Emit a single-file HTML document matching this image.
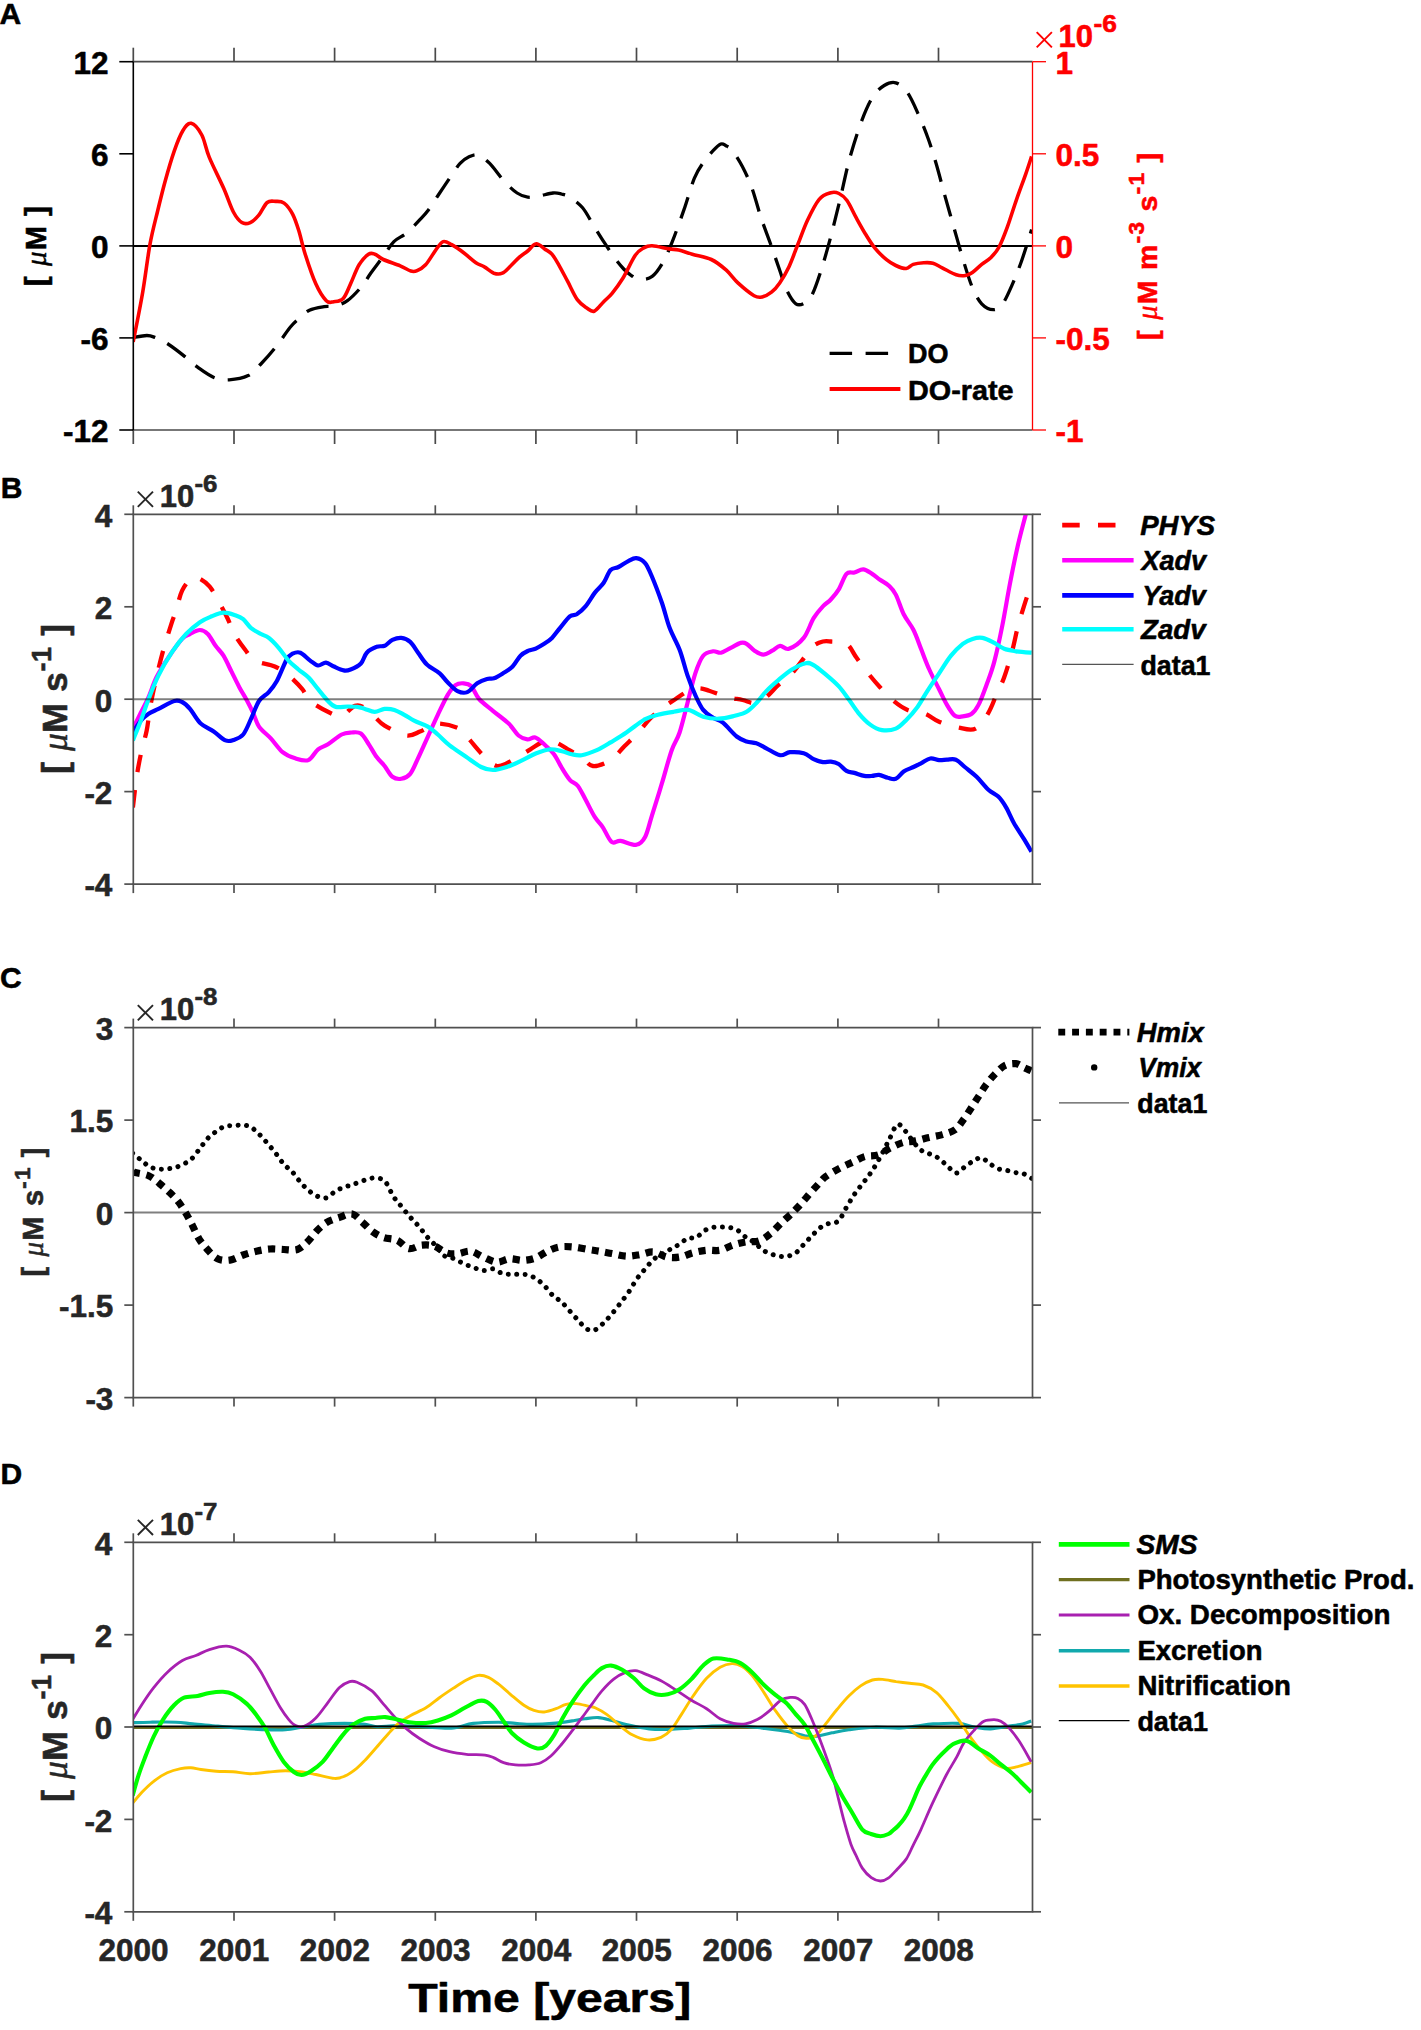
<!DOCTYPE html>
<html><head><meta charset="utf-8"><title>Figure</title>
<style>html,body{margin:0;padding:0;background:#fff;overflow:hidden;font-family:'Liberation Sans',sans-serif;}svg{display:block;}</style>
</head><body>
<svg width="1421" height="2030" viewBox="0 0 1421 2030" font-family="&quot;Liberation Sans&quot;, sans-serif">
<rect x="0" y="0" width="1421" height="2030" fill="#ffffff"/>
<defs>
<clipPath id="clipA"><rect x="133.3" y="61.7" width="899.2" height="368.3"/></clipPath>
<clipPath id="clipB"><rect x="133.3" y="514.3" width="899.2" height="369.8"/></clipPath>
<clipPath id="clipC"><rect x="133.3" y="1027.6" width="899.2" height="370.0"/></clipPath>
<clipPath id="clipD"><rect x="133.3" y="1542.3" width="899.2" height="369.5"/></clipPath>
</defs>
<line x1="133.3" y1="245.9" x2="1032.5" y2="245.9" stroke="#000" stroke-width="2.00" />
<path d="M133.2,337.6 C135.5,337.2 143.2,335.5 146.9,335.5 C150.6,335.5 151.8,336.2 155.3,337.6 C158.8,339.0 163.1,340.8 168.0,344.0 C172.9,347.2 180.0,352.7 184.9,356.6 C189.8,360.5 192.7,363.7 197.6,367.2 C202.5,370.7 209.1,375.6 214.4,377.7 C219.7,379.8 223.6,380.1 229.2,379.8 C234.8,379.5 242.9,378.2 248.2,375.6 C253.5,373.0 256.3,368.8 260.9,364.0 C265.5,359.2 270.8,353.3 275.7,347.1 C280.6,340.9 286.5,331.8 290.4,327.0 C294.3,322.2 295.7,321.4 298.9,318.6 C302.1,315.8 305.2,312.2 309.4,310.2 C313.6,308.2 320.0,307.3 324.2,306.6 C328.4,305.9 330.9,306.9 334.8,305.9 C338.7,304.9 342.8,304.0 347.4,300.7 C352.0,297.4 358.3,290.5 362.2,285.9 C366.1,281.3 367.2,278.1 370.7,273.2 C374.2,268.3 379.4,261.6 383.3,256.3 C387.2,251.0 390.0,245.5 393.9,241.6 C397.8,237.7 402.3,236.6 406.5,233.1 C410.7,229.6 415.6,224.3 419.2,220.4 C422.8,216.5 425.1,214.3 428.4,209.9 C431.7,205.5 435.1,199.8 439.0,194.0 C442.9,188.2 448.2,180.2 451.7,175.1 C455.2,170.0 457.3,166.4 460.1,163.4 C462.9,160.4 465.6,158.5 468.6,157.1 C471.6,155.7 474.5,153.9 478.0,155.0 C481.5,156.1 485.3,159.0 489.7,163.4 C494.1,167.8 499.8,176.5 504.4,181.4 C509.0,186.3 513.2,190.4 517.1,193.0 C521.0,195.6 524.2,196.7 527.7,197.2 C531.2,197.7 534.0,196.9 538.2,196.2 C542.4,195.5 549.1,193.4 553.0,193.0 C556.9,192.6 558.6,193.3 561.4,194.0 C564.2,194.7 566.4,194.9 569.9,197.2 C573.4,199.5 578.7,203.2 582.6,207.8 C586.5,212.4 589.6,219.1 593.1,224.7 C596.6,230.3 600.2,236.2 603.7,241.6 C607.2,247.0 610.9,252.8 614.2,257.4 C617.5,262.0 620.9,266.0 623.7,269.0 C626.5,272.0 628.5,273.6 631.1,275.3 C633.8,277.1 636.1,279.3 639.6,279.5 C643.1,279.7 648.3,279.2 652.2,276.4 C656.1,273.6 659.4,268.5 662.8,262.7 C666.1,256.9 668.8,250.4 672.3,241.6 C675.8,232.8 680.2,220.5 683.9,209.9 C687.6,199.3 690.9,186.5 694.4,178.2 C697.9,169.9 700.9,165.9 705.0,160.3 C709.1,154.7 715.8,147.2 719.3,144.8 C722.8,142.4 724.0,144.8 726.3,145.9 C728.6,147.1 730.5,148.2 733.2,151.7 C735.9,155.2 739.4,160.8 742.5,166.8 C745.6,172.8 748.7,179.2 751.8,187.7 C754.9,196.2 758.0,208.6 761.1,217.9 C764.2,227.2 767.3,234.8 770.4,243.5 C773.5,252.2 777.0,262.5 779.7,270.2 C782.4,277.9 783.9,284.3 786.6,289.9 C789.3,295.5 792.8,301.7 795.9,303.8 C799.0,305.9 802.5,304.2 805.2,302.7 C807.9,301.2 809.5,300.2 812.2,294.6 C814.9,289.0 818.4,278.7 821.5,269.0 C824.6,259.3 827.7,248.1 830.8,236.5 C833.9,224.9 837.0,212.1 840.1,199.3 C843.2,186.5 845.8,172.7 849.3,159.9 C852.8,147.1 857.1,133.2 861.0,122.7 C864.9,112.2 868.7,103.4 872.6,97.2 C876.5,91.0 880.3,87.9 884.2,85.5 C888.1,83.1 891.9,81.6 895.8,82.8 C899.7,84.0 903.5,87.0 907.4,92.5 C911.3,98.0 915.5,108.0 919.0,115.7 C922.5,123.5 925.4,130.9 928.3,139.0 C931.2,147.1 933.7,155.2 936.4,164.5 C939.1,173.8 941.7,184.2 944.6,194.7 C947.5,205.1 950.7,216.4 953.8,227.2 C956.9,238.0 960.0,249.6 963.1,259.7 C966.2,269.8 969.3,280.2 972.4,287.6 C975.5,295.0 978.2,300.1 981.7,303.8 C985.2,307.5 989.8,309.7 993.3,309.7 C996.8,309.7 999.5,307.9 1002.6,303.8 C1005.7,299.7 1008.8,292.3 1011.9,285.3 C1015.0,278.3 1017.9,271.3 1021.2,262.0 C1024.5,252.7 1029.9,234.9 1031.6,229.5" fill="none" stroke="#000" stroke-width="3.30" stroke-linecap="butt" stroke-linejoin="round" stroke-dasharray="22.5 13.5" clip-path="url(#clipA)"/>
<path d="M133.2,341.8 C134.8,333.5 139.9,308.6 142.7,292.2 C145.5,275.8 147.6,257.1 150.1,243.7 C152.6,230.3 154.9,222.2 157.4,212.0 C159.9,201.8 162.0,192.6 164.8,182.4 C167.6,172.2 171.3,159.4 174.3,150.8 C177.3,142.2 180.0,135.3 182.8,130.7 C185.6,126.1 188.0,122.6 191.2,123.3 C194.4,124.0 198.8,129.4 201.8,135.0 C204.8,140.6 205.5,148.1 209.2,157.1 C212.9,166.1 219.9,179.7 223.9,188.8 C227.9,198.0 230.4,206.4 233.4,212.0 C236.4,217.6 239.1,220.8 241.9,222.6 C244.7,224.4 247.5,223.8 250.3,222.6 C253.1,221.4 256.0,218.5 258.8,215.2 C261.6,211.8 264.4,204.8 267.2,202.5 C270.0,200.2 272.9,201.3 275.7,201.4 C278.5,201.5 281.3,201.0 284.1,203.1 C286.9,205.2 290.1,209.4 292.6,214.1 C295.1,218.8 296.8,224.3 298.9,231.0 C301.0,237.7 302.4,245.4 305.2,254.2 C308.0,263.0 312.3,276.1 315.8,283.8 C319.3,291.6 323.3,297.7 326.3,300.7 C329.3,303.7 330.9,302.1 333.7,301.7 C336.5,301.3 340.4,301.5 343.2,298.5 C346.0,295.5 348.0,289.4 350.6,283.8 C353.2,278.2 356.1,269.7 359.1,264.8 C362.1,259.9 365.9,256.0 368.5,254.2 C371.1,252.4 372.4,253.3 374.9,254.2 C377.4,255.1 379.1,257.6 383.3,259.5 C387.5,261.4 395.6,263.9 400.2,265.8 C404.8,267.7 408.0,270.3 410.8,271.1 C413.6,271.9 414.6,271.8 417.1,270.7 C419.6,269.6 422.5,268.2 425.6,264.8 C428.7,261.4 432.9,253.9 435.8,250.0 C438.7,246.1 440.6,242.5 443.2,241.6 C445.8,240.7 448.2,242.8 451.7,244.7 C455.2,246.6 460.3,250.2 464.3,253.2 C468.3,256.2 472.5,260.4 475.9,262.7 C479.2,265.0 481.4,265.1 484.4,266.9 C487.4,268.6 490.9,272.1 493.9,273.2 C496.9,274.2 499.5,274.4 502.3,273.2 C505.1,272.0 508.0,268.4 510.8,265.8 C513.6,263.2 516.4,259.9 519.2,257.4 C522.0,254.9 524.9,253.3 527.7,251.0 C530.5,248.7 533.3,244.0 536.1,243.7 C538.9,243.3 542.0,247.2 544.6,248.9 C547.2,250.7 549.5,251.4 551.9,254.2 C554.3,257.0 556.6,261.2 559.3,265.8 C561.9,270.4 564.8,276.1 567.8,281.7 C570.8,287.3 574.1,295.2 577.3,299.6 C580.5,304.0 584.0,306.1 586.8,308.0 C589.6,309.9 591.4,312.2 594.2,311.2 C597.0,310.1 600.7,304.7 603.7,301.7 C606.7,298.7 608.9,297.2 612.1,293.3 C615.3,289.4 618.8,284.8 622.7,278.5 C626.6,272.2 631.8,260.4 635.3,255.3 C638.8,250.2 641.0,249.5 643.8,247.9 C646.6,246.3 648.0,245.6 652.2,245.8 C656.4,246.0 664.7,248.2 669.1,248.9 C673.5,249.6 674.7,249.1 678.6,250.0 C682.5,250.9 686.8,252.6 692.3,254.2 C697.8,255.8 705.6,256.8 711.3,259.5 C717.0,262.2 721.9,266.3 726.3,270.2 C730.7,274.1 733.3,278.6 737.9,282.9 C742.5,287.1 750.0,293.4 754.1,295.7 C758.2,298.0 759.4,297.5 762.3,296.9 C765.2,296.3 768.6,294.5 771.5,292.2 C774.4,289.9 776.8,287.1 779.7,282.9 C782.6,278.6 785.9,273.3 789.0,266.7 C792.1,260.1 795.1,251.2 798.2,243.5 C801.3,235.8 804.0,227.6 807.5,220.2 C811.0,212.8 815.3,203.9 819.2,199.3 C823.1,194.7 827.5,193.8 830.8,192.8 C834.1,191.8 836.2,192.2 838.9,193.5 C841.6,194.8 844.1,196.4 847.0,200.5 C849.9,204.6 853.2,212.3 856.3,217.9 C859.4,223.5 862.5,229.2 865.6,234.2 C868.7,239.2 871.4,243.8 874.9,248.1 C878.4,252.3 883.0,256.8 886.5,259.7 C890.0,262.6 892.5,264.0 895.8,265.5 C899.1,267.0 903.3,268.7 906.2,268.5 C909.1,268.3 910.3,265.4 913.2,264.4 C916.1,263.4 920.4,262.9 923.7,262.7 C927.0,262.5 929.8,262.3 932.9,263.2 C936.0,264.1 938.3,265.9 942.2,267.8 C946.1,269.7 952.3,273.5 956.2,274.8 C960.1,276.1 962.8,275.9 965.5,275.5 C968.2,275.1 969.7,274.4 972.4,272.5 C975.1,270.6 978.6,266.9 981.7,264.4 C984.8,261.9 988.1,260.3 991.0,257.4 C993.9,254.5 996.4,252.0 999.1,247.0 C1001.8,242.0 1004.4,235.1 1007.3,227.2 C1010.2,219.2 1013.5,208.2 1016.6,199.3 C1019.7,190.4 1023.3,181.0 1025.8,173.8 C1028.3,166.7 1030.6,159.3 1031.6,156.4" fill="none" stroke="#ff0000" stroke-width="3.60" stroke-linecap="butt" stroke-linejoin="round" clip-path="url(#clipA)"/>
<line x1="133.3" y1="47.7" x2="133.3" y2="61.7" stroke="#4a4a4a" stroke-width="1.70" />
<line x1="133.3" y1="430.0" x2="133.3" y2="444.0" stroke="#4a4a4a" stroke-width="1.70" />
<line x1="234.0" y1="47.7" x2="234.0" y2="61.7" stroke="#4a4a4a" stroke-width="1.70" />
<line x1="234.0" y1="430.0" x2="234.0" y2="444.0" stroke="#4a4a4a" stroke-width="1.70" />
<line x1="334.6" y1="47.7" x2="334.6" y2="61.7" stroke="#4a4a4a" stroke-width="1.70" />
<line x1="334.6" y1="430.0" x2="334.6" y2="444.0" stroke="#4a4a4a" stroke-width="1.70" />
<line x1="435.3" y1="47.7" x2="435.3" y2="61.7" stroke="#4a4a4a" stroke-width="1.70" />
<line x1="435.3" y1="430.0" x2="435.3" y2="444.0" stroke="#4a4a4a" stroke-width="1.70" />
<line x1="535.9" y1="47.7" x2="535.9" y2="61.7" stroke="#4a4a4a" stroke-width="1.70" />
<line x1="535.9" y1="430.0" x2="535.9" y2="444.0" stroke="#4a4a4a" stroke-width="1.70" />
<line x1="636.5" y1="47.7" x2="636.5" y2="61.7" stroke="#4a4a4a" stroke-width="1.70" />
<line x1="636.5" y1="430.0" x2="636.5" y2="444.0" stroke="#4a4a4a" stroke-width="1.70" />
<line x1="737.2" y1="47.7" x2="737.2" y2="61.7" stroke="#4a4a4a" stroke-width="1.70" />
<line x1="737.2" y1="430.0" x2="737.2" y2="444.0" stroke="#4a4a4a" stroke-width="1.70" />
<line x1="837.9" y1="47.7" x2="837.9" y2="61.7" stroke="#4a4a4a" stroke-width="1.70" />
<line x1="837.9" y1="430.0" x2="837.9" y2="444.0" stroke="#4a4a4a" stroke-width="1.70" />
<line x1="938.5" y1="47.7" x2="938.5" y2="61.7" stroke="#4a4a4a" stroke-width="1.70" />
<line x1="938.5" y1="430.0" x2="938.5" y2="444.0" stroke="#4a4a4a" stroke-width="1.70" />
<line x1="132.5" y1="61.7" x2="1032.5" y2="61.7" stroke="#4a4a4a" stroke-width="1.70" />
<line x1="132.5" y1="430.0" x2="1032.5" y2="430.0" stroke="#4a4a4a" stroke-width="1.70" />
<line x1="133.3" y1="61.7" x2="133.3" y2="430.0" stroke="#000" stroke-width="1.60" />
<line x1="1032.5" y1="61.7" x2="1032.5" y2="430.0" stroke="#ff0000" stroke-width="1.30" />
<line x1="119.3" y1="61.7" x2="133.3" y2="61.7" stroke="#000" stroke-width="1.60" />
<line x1="1032.5" y1="61.7" x2="1046.0" y2="61.7" stroke="#ff0000" stroke-width="1.30" />
<line x1="119.3" y1="153.8" x2="133.3" y2="153.8" stroke="#000" stroke-width="1.60" />
<line x1="1032.5" y1="153.8" x2="1046.0" y2="153.8" stroke="#ff0000" stroke-width="1.30" />
<line x1="119.3" y1="245.9" x2="133.3" y2="245.9" stroke="#000" stroke-width="1.60" />
<line x1="1032.5" y1="245.9" x2="1046.0" y2="245.9" stroke="#ff0000" stroke-width="1.30" />
<line x1="119.3" y1="337.9" x2="133.3" y2="337.9" stroke="#000" stroke-width="1.60" />
<line x1="1032.5" y1="337.9" x2="1046.0" y2="337.9" stroke="#ff0000" stroke-width="1.30" />
<line x1="119.3" y1="430.0" x2="133.3" y2="430.0" stroke="#000" stroke-width="1.60" />
<line x1="1032.5" y1="430.0" x2="1046.0" y2="430.0" stroke="#ff0000" stroke-width="1.30" />
<text x="108.5" y="73.7" font-size="31.5" text-anchor="end" font-weight="bold" font-style="normal" fill="#000"  stroke="#000" stroke-width="0.55" stroke-linejoin="round">12</text>
<text x="108.5" y="165.8" font-size="31.5" text-anchor="end" font-weight="bold" font-style="normal" fill="#000"  stroke="#000" stroke-width="0.55" stroke-linejoin="round">6</text>
<text x="108.5" y="257.9" font-size="31.5" text-anchor="end" font-weight="bold" font-style="normal" fill="#000"  stroke="#000" stroke-width="0.55" stroke-linejoin="round">0</text>
<text x="108.5" y="349.9" font-size="31.5" text-anchor="end" font-weight="bold" font-style="normal" fill="#000"  stroke="#000" stroke-width="0.55" stroke-linejoin="round">-6</text>
<text x="108.5" y="442.0" font-size="31.5" text-anchor="end" font-weight="bold" font-style="normal" fill="#000"  stroke="#000" stroke-width="0.55" stroke-linejoin="round">-12</text>
<text x="1055.5" y="73.7" font-size="31.5" text-anchor="start" font-weight="bold" font-style="normal" fill="#ff0000"  stroke="#ff0000" stroke-width="0.55" stroke-linejoin="round">1</text>
<text x="1055.5" y="165.8" font-size="31.5" text-anchor="start" font-weight="bold" font-style="normal" fill="#ff0000"  stroke="#ff0000" stroke-width="0.55" stroke-linejoin="round">0.5</text>
<text x="1055.5" y="257.9" font-size="31.5" text-anchor="start" font-weight="bold" font-style="normal" fill="#ff0000"  stroke="#ff0000" stroke-width="0.55" stroke-linejoin="round">0</text>
<text x="1055.5" y="349.9" font-size="31.5" text-anchor="start" font-weight="bold" font-style="normal" fill="#ff0000"  stroke="#ff0000" stroke-width="0.55" stroke-linejoin="round">-0.5</text>
<text x="1055.5" y="442.0" font-size="31.5" text-anchor="start" font-weight="bold" font-style="normal" fill="#ff0000"  stroke="#ff0000" stroke-width="0.55" stroke-linejoin="round">-1</text>
<line x1="1036.7" y1="32.2" x2="1051.9" y2="47.4" stroke="#ff0000" stroke-width="1.90" />
<line x1="1036.7" y1="47.4" x2="1051.9" y2="32.2" stroke="#ff0000" stroke-width="1.90" />
<text x="1058.5" y="47.3" font-size="31.0" text-anchor="start" font-weight="bold" font-style="normal" fill="#ff0000"  stroke="#ff0000" stroke-width="0.55" stroke-linejoin="round">10</text>
<text x="1093.5" y="32.1" font-size="23.5" text-anchor="start" font-weight="bold" font-style="normal" fill="#ff0000" textLength="23.5" lengthAdjust="spacingAndGlyphs"  stroke="#ff0000" stroke-width="0.55" stroke-linejoin="round">-6</text>
<line x1="829.6" y1="353.3" x2="900.4" y2="353.3" stroke="#000" stroke-width="3.30" stroke-dasharray="22.5 13.5"/>
<line x1="829.6" y1="389.0" x2="900.4" y2="389.0" stroke="#ff0000" stroke-width="3.90" />
<text x="908.0" y="363.1" font-size="27.5" text-anchor="start" font-weight="bold" font-style="normal" fill="#000" textLength="40.5" lengthAdjust="spacingAndGlyphs"  stroke="#000" stroke-width="0.55" stroke-linejoin="round">DO</text>
<text x="908.0" y="400.2" font-size="28.0" text-anchor="start" font-weight="bold" font-style="normal" fill="#000" textLength="105.5" lengthAdjust="spacingAndGlyphs"  stroke="#000" stroke-width="0.55" stroke-linejoin="round">DO-rate</text>
<text transform="translate(46.4,246.1) rotate(-90)" font-size="29" font-weight="bold" text-anchor="middle" fill="#000" stroke="#000" stroke-width="0.55" textLength="80" lengthAdjust="spacing">[ <tspan font-family="&quot;Liberation Serif&quot;, serif" font-style="italic" font-weight="normal" stroke-width="0.45">μ</tspan>M ]</text>
<text transform="translate(1156.5,246.4) rotate(-90)" font-size="28.5" font-weight="bold" text-anchor="middle" fill="#ff0000" stroke="#ff0000" stroke-width="0.55" textLength="187" lengthAdjust="spacing">[ <tspan font-family="&quot;Liberation Serif&quot;, serif" font-style="italic" font-weight="normal" stroke-width="0.45">μ</tspan>M m<tspan dy="-13" font-size="22.5">-3</tspan><tspan dy="13"> s</tspan><tspan dy="-13" font-size="22.5">-1</tspan><tspan dy="13"> ]</tspan></text>
<text x="-0.5" y="23.9" font-size="30.0" text-anchor="start" font-weight="bold" font-style="normal" fill="#000"  stroke="#000" stroke-width="0.55" stroke-linejoin="round">A</text>
<path d="M132.9,807.4 C133.6,802.1 135.3,785.4 136.8,775.9 C138.3,766.4 140.0,757.8 141.7,750.2 C143.3,742.6 145.2,738.0 146.7,730.5 C148.2,723.0 149.0,713.8 150.6,704.9 C152.2,696.0 154.4,686.5 156.5,677.3 C158.6,668.1 160.9,658.7 163.4,649.8 C165.9,640.9 169.2,630.7 171.3,624.1 C173.4,617.5 174.4,615.9 176.2,610.3 C178.0,604.7 179.5,596.0 182.1,590.6 C184.7,585.2 189.0,579.8 192.0,577.8 C195.0,575.8 197.0,577.3 199.9,578.8 C202.8,580.3 206.8,583.2 209.7,586.7 C212.6,590.2 214.6,594.2 217.6,599.5 C220.6,604.8 224.7,612.5 227.5,618.2 C230.3,624.0 231.5,628.7 234.4,634.0 C237.3,639.3 241.8,645.4 245.2,649.8 C248.6,654.2 250.1,657.8 255.0,660.6 C259.9,663.4 269.2,664.0 274.8,666.5 C280.4,669.0 283.9,671.6 288.5,675.4 C293.1,679.2 298.7,684.9 302.3,689.2 C305.9,693.5 305.6,697.1 310.2,701.0 C314.8,704.9 324.6,710.3 329.9,712.8 C335.1,715.3 337.5,716.9 341.7,715.8 C345.9,714.6 351.1,707.2 355.0,705.9 C358.9,704.6 361.6,706.1 364.9,707.9 C368.2,709.7 371.4,713.8 374.7,716.7 C378.0,719.7 379.4,722.5 384.6,725.6 C389.9,728.7 400.3,734.5 406.2,735.5 C412.1,736.5 416.1,733.0 420.0,731.5 C423.9,730.0 426.6,727.9 429.9,726.6 C433.2,725.3 434.8,723.3 439.7,723.6 C444.6,723.9 454.5,726.0 459.4,728.6 C464.3,731.2 465.4,735.0 469.3,739.4 C473.2,743.8 478.5,750.8 483.1,755.2 C487.7,759.6 492.0,765.2 496.9,766.0 C501.8,766.8 507.0,762.9 512.6,760.1 C518.2,757.3 525.8,752.1 530.4,749.3 C535.0,746.5 536.9,744.7 540.2,743.3 C543.5,741.9 547.1,740.8 550.1,740.8 C553.1,740.8 555.0,741.9 558.0,743.3 C561.0,744.7 563.9,747.0 567.8,749.3 C571.7,751.6 577.4,754.3 581.6,757.1 C585.8,759.9 588.1,765.5 592.9,766.0 C597.7,766.5 605.4,763.4 610.6,760.1 C615.9,756.8 619.8,750.9 624.4,746.3 C629.0,741.7 633.9,737.1 638.2,732.5 C642.5,727.9 645.7,723.0 650.0,718.7 C654.3,714.4 659.5,710.2 663.8,706.9 C668.1,703.6 671.3,701.8 675.6,699.0 C679.9,696.2 685.5,691.9 689.4,690.1 C693.3,688.3 696.0,688.1 699.3,688.2 C702.6,688.3 704.5,689.2 709.1,690.7 C713.7,692.2 721.3,695.5 726.9,697.0 C732.5,698.5 738.0,699.0 742.6,700.0 C747.2,701.0 750.5,703.5 754.5,703.0 C758.5,702.5 762.4,700.0 766.3,697.0 C770.2,694.0 773.8,689.1 778.1,685.2 C782.4,681.3 787.3,678.3 791.9,673.4 C796.5,668.5 802.1,660.3 805.7,655.7 C809.3,651.1 810.7,648.2 813.6,645.8 C816.5,643.4 820.0,642.2 822.9,641.5 C825.8,640.8 826.9,641.1 830.8,641.5 C834.7,641.9 842.2,641.1 846.5,643.8 C850.8,646.5 852.8,652.7 856.4,657.6 C860.0,662.5 864.3,668.5 868.2,673.4 C872.1,678.3 875.7,682.6 880.0,687.2 C884.3,691.8 889.2,697.2 893.8,701.0 C898.4,704.8 902.4,707.8 907.6,709.9 C912.9,712.0 920.0,711.8 925.3,713.8 C930.5,715.8 933.5,719.4 939.1,721.7 C944.7,724.0 952.7,726.5 958.8,727.6 C964.9,728.8 970.7,731.1 975.6,728.6 C980.5,726.1 985.0,718.4 988.4,712.8 C991.8,707.2 993.7,701.0 996.3,695.1 C998.9,689.2 1001.6,684.5 1004.2,677.3 C1006.8,670.1 1009.7,660.2 1012.0,651.7 C1014.3,643.2 1016.0,633.7 1018.0,626.1 C1020.0,618.5 1022.1,612.1 1023.9,606.4 C1025.7,600.6 1027.5,595.2 1028.8,591.6 C1030.1,588.0 1031.2,586.1 1031.7,585.0" fill="none" stroke="#ff0000" stroke-width="4.30" stroke-linecap="butt" stroke-linejoin="round" stroke-dasharray="17.5 18" clip-path="url(#clipB)"/>
<path d="M132.9,728.6 C134.2,726.0 138.2,718.1 140.8,712.8 C143.4,707.5 146.0,702.9 148.6,697.0 C151.2,691.1 153.2,683.9 156.5,677.3 C159.8,670.7 164.0,664.0 168.3,657.6 C172.6,651.2 178.5,642.8 182.1,638.9 C185.7,635.0 187.0,635.5 190.0,634.0 C193.0,632.5 196.9,630.0 199.9,630.0 C202.9,630.0 205.2,631.4 207.8,634.0 C210.4,636.6 213.0,642.2 215.6,645.8 C218.2,649.4 220.9,651.4 223.5,655.7 C226.1,660.0 228.8,666.1 231.4,671.4 C234.0,676.6 236.7,682.3 239.3,687.2 C241.9,692.1 244.9,696.7 247.2,701.0 C249.5,705.3 251.1,708.5 253.1,712.8 C255.1,717.1 256.1,722.3 259.0,726.6 C261.9,730.9 266.9,734.1 270.8,738.4 C274.7,742.7 278.7,748.9 282.6,752.2 C286.6,755.5 290.2,756.8 294.5,758.1 C298.8,759.4 304.4,761.6 308.3,760.1 C312.2,758.6 314.8,751.9 318.1,749.3 C321.4,746.7 324.1,746.8 328.0,744.3 C331.9,741.8 337.8,736.5 341.7,734.5 C345.6,732.5 348.4,732.7 351.6,732.5 C354.8,732.3 358.0,731.5 360.9,733.5 C363.8,735.5 366.2,740.4 368.8,744.3 C371.4,748.2 374.1,753.5 376.7,757.1 C379.3,760.7 382.0,762.7 384.6,766.0 C387.2,769.3 389.6,774.7 392.4,776.8 C395.2,778.9 398.3,779.3 401.3,778.8 C404.3,778.3 407.4,777.3 410.2,773.9 C413.0,770.5 415.2,764.3 418.1,758.1 C421.1,751.9 424.6,743.7 427.9,736.5 C431.2,729.3 434.5,721.7 437.8,714.8 C441.1,707.9 444.7,700.0 447.6,695.1 C450.6,690.2 452.9,687.2 455.5,685.2 C458.1,683.2 460.8,683.1 463.4,683.3 C466.0,683.5 468.7,683.6 471.3,686.2 C473.9,688.8 475.5,694.9 479.1,699.0 C482.7,703.1 488.0,706.7 492.9,710.8 C497.8,714.9 504.4,719.5 508.7,723.6 C513.0,727.7 515.4,732.9 518.5,735.5 C521.6,738.1 524.6,739.1 527.4,739.4 C530.2,739.7 532.5,736.6 535.3,737.4 C538.1,738.2 541.1,741.5 544.2,744.3 C547.3,747.1 551.0,750.2 554.0,754.2 C557.0,758.2 559.3,763.7 561.9,768.0 C564.5,772.3 567.2,776.8 569.8,779.8 C572.4,782.8 575.1,782.4 577.7,785.7 C580.3,789.0 582.6,794.2 585.5,799.5 C588.4,804.8 592.0,812.6 594.9,817.2 C597.8,821.8 599.9,823.0 602.7,827.1 C605.5,831.2 608.6,839.6 611.6,841.9 C614.6,844.2 616.4,840.4 620.5,840.9 C624.6,841.4 632.1,845.4 636.2,844.8 C640.3,844.1 642.5,841.9 645.1,837.0 C647.7,832.1 649.2,824.2 652.0,815.3 C654.8,806.4 658.5,794.6 661.8,783.7 C665.1,772.9 668.7,758.7 671.7,750.2 C674.7,741.7 677.0,740.4 679.6,732.5 C682.2,724.6 684.9,712.9 687.5,703.0 C690.1,693.1 692.7,681.3 695.3,673.4 C697.9,665.5 700.2,659.4 703.2,655.7 C706.2,652.0 710.1,651.8 713.1,651.3 C716.1,650.8 718.0,653.3 721.0,652.7 C724.0,652.1 727.5,649.4 730.8,647.8 C734.1,646.2 738.1,643.6 740.7,642.9 C743.3,642.2 744.3,642.5 746.6,643.8 C748.9,645.1 751.7,648.9 754.5,650.7 C757.3,652.5 760.3,654.7 763.3,654.7 C766.2,654.7 769.4,652.2 772.2,650.7 C775.0,649.2 777.3,646.1 780.1,645.8 C782.9,645.5 785.0,650.1 788.9,648.8 C792.8,647.5 799.6,643.0 803.7,637.9 C807.8,632.8 810.4,623.5 813.6,618.2 C816.8,613.0 820.0,609.5 822.9,606.4 C825.8,603.3 828.2,602.3 830.8,599.5 C833.4,596.7 836.0,594.0 838.6,589.7 C841.2,585.4 843.9,576.8 846.5,573.9 C849.1,571.0 851.6,573.2 854.4,572.5 C857.2,571.8 860.3,569.2 863.3,569.4 C866.2,569.6 869.3,572.2 872.1,573.9 C874.9,575.6 877.2,577.8 880.0,579.8 C882.8,581.8 886.3,583.2 888.9,585.7 C891.5,588.2 893.3,589.8 895.8,594.6 C898.3,599.4 900.8,608.4 903.7,614.3 C906.7,620.2 910.5,624.1 913.5,630.0 C916.5,635.9 918.8,643.2 921.4,649.8 C924.0,656.4 926.3,662.9 929.3,669.5 C932.2,676.1 936.1,683.3 939.1,689.2 C942.1,695.1 944.4,700.5 947.0,704.9 C949.6,709.3 952.3,713.9 954.9,715.8 C957.5,717.7 960.0,716.7 962.8,716.4 C965.6,716.1 969.1,715.7 971.7,713.8 C974.3,711.9 976.0,709.7 978.5,704.9 C981.0,700.1 983.8,692.4 986.4,685.2 C989.0,678.0 991.7,671.5 994.3,661.6 C996.9,651.8 999.6,639.2 1002.2,626.1 C1004.8,613.0 1007.5,596.3 1010.1,582.8 C1012.7,569.3 1015.3,556.7 1017.9,545.3 C1020.5,533.9 1023.5,523.4 1025.8,514.2 C1028.1,505.0 1030.7,494.0 1031.7,490.0" fill="none" stroke="#ff00ff" stroke-width="4.20" stroke-linecap="butt" stroke-linejoin="round" clip-path="url(#clipB)"/>
<path d="M132.9,732.5 C134.2,730.5 138.2,723.8 140.8,720.7 C143.4,717.6 145.7,715.8 148.6,713.8 C151.5,711.8 154.2,711.0 158.5,708.9 C162.8,706.8 170.4,702.1 174.3,701.0 C178.2,699.9 179.5,700.7 182.1,702.0 C184.7,703.3 187.0,705.4 190.0,708.9 C193.0,712.4 196.0,718.9 199.9,722.7 C203.8,726.5 209.4,728.5 213.7,731.5 C218.0,734.5 222.2,739.0 225.5,740.4 C228.8,741.8 230.5,741.0 233.4,740.0 C236.3,739.0 240.2,738.0 243.2,734.5 C246.1,731.0 248.5,724.3 251.1,718.7 C253.7,713.1 256.1,705.4 259.0,701.0 C261.9,696.6 265.9,695.4 268.8,692.1 C271.8,688.8 273.7,686.7 276.7,681.3 C279.7,675.9 284.0,664.2 286.6,659.6 C289.2,655.0 290.2,654.9 292.5,653.7 C294.8,652.6 297.4,651.6 300.4,652.7 C303.3,653.9 307.2,658.5 310.2,660.6 C313.1,662.7 315.5,665.2 318.1,665.5 C320.7,665.8 323.4,662.4 326.0,662.6 C328.6,662.8 330.9,665.2 333.9,666.5 C336.8,667.8 340.9,669.9 343.7,670.4 C346.5,670.9 347.7,670.6 350.6,669.5 C353.5,668.4 358.2,666.3 360.9,663.5 C363.6,660.7 364.2,655.5 366.8,652.7 C369.4,649.9 373.7,647.9 376.7,646.8 C379.7,645.6 382.0,646.9 384.6,645.8 C387.2,644.6 389.6,641.2 392.4,639.9 C395.2,638.6 398.3,637.6 401.3,637.9 C404.3,638.2 407.4,639.4 410.2,641.9 C413.0,644.4 415.3,648.9 418.1,652.7 C420.9,656.5 423.3,661.0 426.9,664.5 C430.5,668.0 436.2,670.4 439.7,673.4 C443.1,676.4 444.6,679.3 447.6,682.3 C450.6,685.2 454.2,689.5 457.5,691.1 C460.8,692.7 464.0,693.4 467.3,692.1 C470.6,690.8 473.9,685.5 477.2,683.3 C480.5,681.1 484.2,679.7 487.0,678.9 C489.8,678.1 491.3,679.2 493.9,678.3 C496.5,677.4 499.7,675.4 502.8,673.4 C505.9,671.4 509.7,669.5 512.6,666.5 C515.6,663.5 517.9,658.3 520.5,655.7 C523.1,653.1 525.9,651.9 528.4,650.7 C530.9,649.6 532.7,649.9 535.3,648.8 C537.9,647.6 541.4,645.6 544.2,643.8 C547.0,642.0 549.4,640.5 552.0,637.9 C554.6,635.3 556.9,631.7 559.9,628.1 C562.9,624.5 567.0,618.6 569.8,616.3 C572.6,614.0 574.1,615.9 576.7,614.3 C579.3,612.6 582.5,610.0 585.5,606.4 C588.5,602.8 591.9,596.5 594.9,592.6 C597.9,588.7 601.1,586.6 603.7,582.8 C606.3,579.0 608.1,572.6 610.6,570.0 C613.1,567.4 615.5,568.5 618.5,567.0 C621.5,565.5 625.3,562.6 628.3,561.1 C631.2,559.6 633.4,557.8 636.2,558.1 C639.0,558.4 642.5,560.0 645.1,563.1 C647.7,566.2 649.2,570.2 652.0,576.8 C654.8,583.4 658.8,594.0 661.8,602.5 C664.8,611.0 666.7,620.2 669.7,628.1 C672.7,636.0 676.6,641.9 679.6,649.8 C682.6,657.7 684.9,667.8 687.5,675.4 C690.1,683.0 692.7,689.4 695.3,695.1 C697.9,700.9 700.2,706.1 703.2,709.9 C706.2,713.7 709.8,715.6 713.1,717.7 C716.4,719.8 719.0,719.6 722.9,722.7 C726.8,725.8 732.8,733.4 736.7,736.5 C740.7,739.6 743.3,740.3 746.6,741.4 C749.9,742.5 753.1,742.1 756.4,743.3 C759.7,744.4 762.3,746.3 766.3,748.3 C770.2,750.3 776.2,754.6 780.1,755.2 C784.0,755.9 786.0,752.5 789.9,752.2 C793.8,751.9 799.8,752.1 803.7,753.2 C807.7,754.4 810.4,757.6 813.6,759.1 C816.8,760.6 820.0,761.7 822.9,762.1 C825.8,762.5 828.2,761.4 830.8,761.7 C833.4,762.0 836.0,762.5 838.6,764.0 C841.2,765.5 843.9,769.4 846.5,770.9 C849.1,772.4 851.4,772.1 854.4,772.9 C857.4,773.7 861.3,775.4 864.3,775.9 C867.2,776.4 869.6,776.1 872.1,775.9 C874.6,775.7 876.4,774.6 879.0,774.9 C881.6,775.2 885.1,777.1 887.9,777.8 C890.7,778.4 893.2,779.8 895.8,778.8 C898.4,777.8 900.8,773.5 903.7,771.5 C906.7,769.5 910.5,768.4 913.5,767.0 C916.5,765.6 918.6,764.5 921.4,763.1 C924.2,761.7 927.3,759.0 930.3,758.5 C933.2,758.0 936.3,759.9 939.1,760.1 C941.9,760.3 944.2,759.8 947.0,759.7 C949.8,759.6 952.9,758.5 955.9,759.7 C958.9,760.9 961.3,764.1 964.8,767.0 C968.2,769.9 972.7,773.0 976.6,776.8 C980.5,780.6 984.8,786.4 988.4,789.7 C992.0,793.0 995.3,793.7 998.3,796.6 C1001.2,799.5 1003.5,803.0 1006.1,807.4 C1008.7,811.8 1011.0,818.0 1014.0,823.2 C1017.0,828.5 1021.0,834.1 1023.9,838.9 C1026.8,843.6 1030.2,849.6 1031.4,851.7" fill="none" stroke="#0000ff" stroke-width="4.20" stroke-linecap="butt" stroke-linejoin="round" clip-path="url(#clipB)"/>
<path d="M132.9,740.4 C134.2,737.1 138.2,727.6 140.8,720.7 C143.4,713.8 145.7,706.5 148.6,699.0 C151.5,691.5 154.6,683.3 158.5,675.4 C162.4,667.5 167.7,658.6 172.3,651.7 C176.9,644.8 181.5,638.9 186.1,634.0 C190.7,629.1 195.6,625.2 199.9,622.2 C204.2,619.2 207.8,617.9 211.7,616.3 C215.6,614.7 219.6,612.9 223.5,612.7 C227.4,612.5 232.0,614.2 235.3,615.3 C238.6,616.4 240.6,617.1 243.2,619.2 C245.8,621.3 248.1,625.6 251.1,628.1 C254.1,630.6 258.1,632.4 261.0,634.0 C263.9,635.6 265.9,635.6 268.8,637.9 C271.8,640.2 275.4,644.0 278.7,647.8 C282.0,651.6 285.2,657.0 288.5,660.6 C291.8,664.2 295.1,666.7 298.4,669.5 C301.7,672.3 305.0,674.0 308.3,677.3 C311.6,680.6 314.8,685.2 318.1,689.2 C321.4,693.2 325.1,698.0 328.0,701.0 C330.9,704.0 332.5,706.0 335.8,706.9 C339.1,707.8 344.1,706.5 347.7,706.5 C351.3,706.5 354.6,706.5 357.5,706.9 C360.4,707.3 362.0,708.1 364.9,708.9 C367.8,709.7 371.4,711.8 374.7,711.8 C378.0,711.8 381.3,709.2 384.6,708.9 C387.9,708.6 391.1,708.9 394.4,709.9 C397.7,710.9 401.0,713.0 404.3,714.8 C407.6,716.6 410.2,718.7 414.1,720.7 C418.0,722.7 423.9,724.3 427.9,726.6 C431.8,728.9 434.2,731.4 437.8,734.5 C441.4,737.6 445.0,741.7 449.6,745.3 C454.2,748.9 460.1,752.6 465.3,756.2 C470.6,759.8 476.5,764.7 481.1,767.0 C485.7,769.3 488.6,770.0 492.9,770.0 C497.2,770.0 501.8,768.6 506.7,767.0 C511.6,765.4 517.6,762.4 522.5,760.1 C527.4,757.8 531.7,755.0 536.3,753.2 C540.9,751.4 545.8,749.6 550.1,749.3 C554.4,749.0 558.3,750.4 561.9,751.2 C565.5,752.0 568.4,753.5 571.7,754.2 C575.0,754.9 577.4,755.9 581.6,755.2 C585.8,754.5 592.0,752.3 596.8,750.2 C601.6,748.1 605.7,745.4 610.6,742.4 C615.5,739.4 620.8,736.3 626.4,732.5 C632.0,728.7 638.9,722.7 644.1,719.7 C649.4,716.8 653.0,716.1 657.9,714.8 C662.8,713.5 668.6,712.6 673.7,711.8 C678.8,711.0 683.5,709.1 688.4,709.9 C693.3,710.7 698.1,715.2 703.2,716.7 C708.3,718.2 713.7,718.9 719.0,718.7 C724.3,718.6 730.2,716.9 734.8,715.8 C739.4,714.6 743.0,713.9 746.6,711.8 C750.2,709.7 753.1,706.5 756.4,703.0 C759.7,699.5 762.7,694.9 766.3,691.1 C769.9,687.3 773.8,683.9 778.1,680.3 C782.4,676.7 787.3,672.4 791.9,669.5 C796.5,666.6 802.1,663.9 805.7,663.2 C809.3,662.5 810.1,663.1 813.6,665.1 C817.1,667.1 822.6,671.9 826.8,675.4 C831.0,678.9 835.0,682.3 838.6,686.2 C842.2,690.1 845.2,694.6 848.5,699.0 C851.8,703.4 854.7,708.5 858.3,712.8 C861.9,717.1 866.2,721.7 870.2,724.6 C874.2,727.5 877.7,729.4 882.0,730.1 C886.3,730.8 891.9,730.2 895.8,728.6 C899.7,727.0 902.0,724.3 905.6,720.7 C909.2,717.1 913.9,711.8 917.5,706.9 C921.1,702.0 923.7,696.7 927.3,691.1 C930.9,685.5 935.1,679.3 939.1,673.4 C943.1,667.5 947.0,660.6 951.0,655.7 C955.0,650.8 959.2,646.6 962.8,643.8 C966.4,641.0 969.3,639.9 972.6,638.9 C975.9,637.9 978.9,637.2 982.5,637.9 C986.1,638.6 990.7,641.1 994.3,642.9 C997.9,644.7 1000.6,647.4 1004.2,648.8 C1007.8,650.2 1011.4,650.6 1016.0,651.3 C1020.6,651.9 1029.1,652.5 1031.7,652.7" fill="none" stroke="#00ffff" stroke-width="4.20" stroke-linecap="butt" stroke-linejoin="round" clip-path="url(#clipB)"/>
<line x1="133.3" y1="699.2" x2="1032.5" y2="699.2" stroke="#000" stroke-width="2.00" stroke-opacity="0.5"/>
<line x1="133.3" y1="505.3" x2="133.3" y2="514.3" stroke="#505050" stroke-width="1.70" />
<line x1="133.3" y1="884.1" x2="133.3" y2="893.1" stroke="#505050" stroke-width="1.70" />
<line x1="234.0" y1="505.3" x2="234.0" y2="514.3" stroke="#505050" stroke-width="1.70" />
<line x1="234.0" y1="884.1" x2="234.0" y2="893.1" stroke="#505050" stroke-width="1.70" />
<line x1="334.6" y1="505.3" x2="334.6" y2="514.3" stroke="#505050" stroke-width="1.70" />
<line x1="334.6" y1="884.1" x2="334.6" y2="893.1" stroke="#505050" stroke-width="1.70" />
<line x1="435.3" y1="505.3" x2="435.3" y2="514.3" stroke="#505050" stroke-width="1.70" />
<line x1="435.3" y1="884.1" x2="435.3" y2="893.1" stroke="#505050" stroke-width="1.70" />
<line x1="535.9" y1="505.3" x2="535.9" y2="514.3" stroke="#505050" stroke-width="1.70" />
<line x1="535.9" y1="884.1" x2="535.9" y2="893.1" stroke="#505050" stroke-width="1.70" />
<line x1="636.5" y1="505.3" x2="636.5" y2="514.3" stroke="#505050" stroke-width="1.70" />
<line x1="636.5" y1="884.1" x2="636.5" y2="893.1" stroke="#505050" stroke-width="1.70" />
<line x1="737.2" y1="505.3" x2="737.2" y2="514.3" stroke="#505050" stroke-width="1.70" />
<line x1="737.2" y1="884.1" x2="737.2" y2="893.1" stroke="#505050" stroke-width="1.70" />
<line x1="837.9" y1="505.3" x2="837.9" y2="514.3" stroke="#505050" stroke-width="1.70" />
<line x1="837.9" y1="884.1" x2="837.9" y2="893.1" stroke="#505050" stroke-width="1.70" />
<line x1="938.5" y1="505.3" x2="938.5" y2="514.3" stroke="#505050" stroke-width="1.70" />
<line x1="938.5" y1="884.1" x2="938.5" y2="893.1" stroke="#505050" stroke-width="1.70" />
<line x1="132.5" y1="514.3" x2="1033.3" y2="514.3" stroke="#505050" stroke-width="1.70" />
<line x1="132.5" y1="884.1" x2="1033.3" y2="884.1" stroke="#505050" stroke-width="1.70" />
<line x1="133.3" y1="514.3" x2="133.3" y2="884.1" stroke="#505050" stroke-width="1.70" />
<line x1="1032.5" y1="514.3" x2="1032.5" y2="884.1" stroke="#505050" stroke-width="1.70" />
<line x1="124.3" y1="514.3" x2="133.3" y2="514.3" stroke="#505050" stroke-width="1.70" />
<line x1="1032.5" y1="514.3" x2="1041.0" y2="514.3" stroke="#505050" stroke-width="1.70" />
<line x1="124.3" y1="606.8" x2="133.3" y2="606.8" stroke="#505050" stroke-width="1.70" />
<line x1="1032.5" y1="606.8" x2="1041.0" y2="606.8" stroke="#505050" stroke-width="1.70" />
<line x1="124.3" y1="699.2" x2="133.3" y2="699.2" stroke="#505050" stroke-width="1.70" />
<line x1="1032.5" y1="699.2" x2="1041.0" y2="699.2" stroke="#505050" stroke-width="1.70" />
<line x1="124.3" y1="791.6" x2="133.3" y2="791.6" stroke="#505050" stroke-width="1.70" />
<line x1="1032.5" y1="791.6" x2="1041.0" y2="791.6" stroke="#505050" stroke-width="1.70" />
<line x1="124.3" y1="884.1" x2="133.3" y2="884.1" stroke="#505050" stroke-width="1.70" />
<line x1="1032.5" y1="884.1" x2="1041.0" y2="884.1" stroke="#505050" stroke-width="1.70" />
<text x="112.4" y="526.6" font-size="31.5" text-anchor="end" font-weight="bold" font-style="normal" fill="#262626"  stroke="#262626" stroke-width="0.55" stroke-linejoin="round">4</text>
<text x="112.4" y="619.0" font-size="31.5" text-anchor="end" font-weight="bold" font-style="normal" fill="#262626"  stroke="#262626" stroke-width="0.55" stroke-linejoin="round">2</text>
<text x="112.4" y="711.5" font-size="31.5" text-anchor="end" font-weight="bold" font-style="normal" fill="#262626"  stroke="#262626" stroke-width="0.55" stroke-linejoin="round">0</text>
<text x="112.4" y="803.9" font-size="31.5" text-anchor="end" font-weight="bold" font-style="normal" fill="#262626"  stroke="#262626" stroke-width="0.55" stroke-linejoin="round">-2</text>
<text x="112.4" y="896.4" font-size="31.5" text-anchor="end" font-weight="bold" font-style="normal" fill="#262626"  stroke="#262626" stroke-width="0.55" stroke-linejoin="round">-4</text>
<line x1="137.8" y1="491.7" x2="153.0" y2="506.9" stroke="#262626" stroke-width="1.90" />
<line x1="137.8" y1="506.9" x2="153.0" y2="491.7" stroke="#262626" stroke-width="1.90" />
<text x="159.8" y="506.9" font-size="31.0" text-anchor="start" font-weight="bold" font-style="normal" fill="#262626"  stroke="#262626" stroke-width="0.55" stroke-linejoin="round">10</text>
<text x="194.5" y="491.7" font-size="23.5" text-anchor="start" font-weight="bold" font-style="normal" fill="#262626" textLength="23.0" lengthAdjust="spacingAndGlyphs"  stroke="#262626" stroke-width="0.55" stroke-linejoin="round">-6</text>
<line x1="1062.2" y1="525.1" x2="1133.6" y2="525.1" stroke="#ff0000" stroke-width="4.60" stroke-dasharray="17.5 18.3"/>
<line x1="1062.2" y1="560.2" x2="1133.6" y2="560.2" stroke="#ff00ff" stroke-width="4.60" />
<line x1="1062.2" y1="595.4" x2="1133.6" y2="595.4" stroke="#0000ff" stroke-width="4.60" />
<line x1="1062.2" y1="629.2" x2="1133.6" y2="629.2" stroke="#00ffff" stroke-width="4.60" />
<line x1="1062.2" y1="664.4" x2="1133.6" y2="664.4" stroke="#555" stroke-width="1.30" />
<text x="1140.2" y="534.5" font-size="27.5" text-anchor="start" font-weight="bold" font-style="italic" fill="#000" textLength="75.0" lengthAdjust="spacingAndGlyphs"  stroke="#000" stroke-width="0.55" stroke-linejoin="round">PHYS</text>
<text x="1141.5" y="569.6" font-size="27.5" text-anchor="start" font-weight="bold" font-style="italic" fill="#000" textLength="64.5" lengthAdjust="spacingAndGlyphs"  stroke="#000" stroke-width="0.55" stroke-linejoin="round">Xadv</text>
<text x="1142.2" y="604.8" font-size="27.5" text-anchor="start" font-weight="bold" font-style="italic" fill="#000" textLength="63.5" lengthAdjust="spacingAndGlyphs"  stroke="#000" stroke-width="0.55" stroke-linejoin="round">Yadv</text>
<text x="1141.0" y="638.6" font-size="27.5" text-anchor="start" font-weight="bold" font-style="italic" fill="#000" textLength="64.5" lengthAdjust="spacingAndGlyphs"  stroke="#000" stroke-width="0.55" stroke-linejoin="round">Zadv</text>
<text x="1140.5" y="675.2" font-size="27.5" text-anchor="start" font-weight="bold" font-style="normal" fill="#000" textLength="70.0" lengthAdjust="spacingAndGlyphs"  stroke="#000" stroke-width="0.55" stroke-linejoin="round">data1</text>
<text transform="translate(66.8,699) rotate(-90)" font-size="35.5" font-weight="bold" text-anchor="middle" fill="#262626" stroke="#262626" stroke-width="0.55" textLength="150" lengthAdjust="spacing">[ <tspan font-family="&quot;Liberation Serif&quot;, serif" font-style="italic" font-weight="normal" stroke-width="0.45">μ</tspan>M s<tspan dy="-16" font-size="27">-1</tspan><tspan dy="16"> ]</tspan></text>
<text x="0.8" y="497.6" font-size="30.0" text-anchor="start" font-weight="bold" font-style="normal" fill="#000"  stroke="#000" stroke-width="0.55" stroke-linejoin="round">B</text>
<path d="M133.2,1171.5 C133.5,1171.7 132.5,1171.9 135.1,1172.6 C137.7,1173.3 144.5,1173.9 148.6,1175.7 C152.7,1177.5 156.1,1180.8 159.6,1183.6 C163.1,1186.4 166.6,1189.5 169.8,1192.6 C173.0,1195.7 175.9,1198.5 178.7,1202.2 C181.5,1205.9 184.3,1210.6 186.6,1214.5 C188.9,1218.4 190.5,1221.7 192.6,1225.8 C194.7,1229.9 196.8,1235.3 199.3,1239.3 C201.8,1243.2 204.4,1246.2 207.4,1249.5 C210.4,1252.8 213.8,1257.0 217.6,1258.8 C221.4,1260.6 225.7,1260.7 230.0,1260.1 C234.3,1259.5 238.8,1256.5 243.2,1255.0 C247.6,1253.5 251.9,1252.2 256.4,1251.2 C260.9,1250.2 265.6,1249.3 270.2,1249.0 C274.8,1248.7 279.3,1249.4 283.8,1249.5 C288.3,1249.6 293.4,1250.8 297.3,1249.5 C301.2,1248.2 304.2,1245.0 307.4,1241.9 C310.6,1238.8 313.5,1234.2 316.7,1230.9 C319.9,1227.7 323.0,1224.7 326.8,1222.4 C330.6,1220.2 335.3,1218.8 339.5,1217.4 C343.7,1216.0 348.3,1213.2 352.2,1214.0 C356.1,1214.8 359.2,1219.5 362.6,1222.4 C366.0,1225.4 369.2,1229.2 372.7,1231.7 C376.2,1234.2 379.6,1236.2 383.7,1237.6 C387.8,1239.0 393.0,1238.4 397.2,1240.2 C401.4,1242.0 404.9,1247.8 409.0,1248.6 C413.1,1249.4 417.5,1245.6 421.7,1245.2 C425.9,1244.8 430.3,1244.8 434.4,1246.1 C438.5,1247.4 442.3,1251.5 446.2,1252.8 C450.1,1254.1 453.9,1254.0 458.0,1253.7 C462.1,1253.4 466.5,1250.6 470.7,1251.2 C474.9,1251.8 479.0,1255.3 483.4,1257.1 C487.8,1258.9 492.5,1261.8 496.9,1262.1 C501.2,1262.4 505.1,1259.1 509.5,1258.8 C513.9,1258.5 518.6,1260.6 523.0,1260.4 C527.4,1260.2 531.6,1259.4 535.7,1257.9 C539.8,1256.4 543.5,1253.0 547.5,1251.2 C551.5,1249.4 555.2,1247.6 559.4,1246.9 C563.6,1246.2 568.1,1246.5 572.9,1246.9 C577.7,1247.3 583.7,1248.8 588.1,1249.5 C592.5,1250.2 595.3,1250.5 599.4,1251.2 C603.5,1251.9 608.3,1252.9 612.9,1253.7 C617.5,1254.5 622.6,1256.1 627.2,1256.2 C631.8,1256.3 636.3,1255.2 640.7,1254.5 C645.1,1253.8 649.0,1251.6 653.4,1252.0 C657.8,1252.4 662.5,1256.2 666.9,1257.1 C671.3,1257.9 675.2,1257.8 679.6,1257.1 C684.0,1256.4 688.6,1253.9 693.1,1252.8 C697.6,1251.7 702.1,1250.7 706.6,1250.3 C711.1,1249.9 715.7,1251.1 720.1,1250.3 C724.5,1249.5 728.4,1246.6 732.8,1245.2 C737.2,1243.8 741.9,1242.6 746.3,1241.9 C750.7,1241.2 754.9,1242.4 759.0,1241.0 C763.1,1239.6 767.1,1236.4 770.8,1233.4 C774.4,1230.5 777.7,1226.4 780.9,1223.3 C784.1,1220.2 787.0,1217.9 790.2,1214.8 C793.4,1211.7 797.1,1208.2 800.3,1204.7 C803.5,1201.2 806.5,1197.2 809.6,1193.7 C812.7,1190.2 816.2,1186.5 818.9,1183.6 C821.6,1180.7 822.6,1178.9 826.0,1176.4 C829.4,1173.9 835.0,1170.8 839.5,1168.4 C844.0,1166.0 848.8,1164.0 853.0,1162.0 C857.2,1160.0 860.6,1157.8 864.8,1156.6 C869.0,1155.4 874.2,1156.2 878.3,1154.9 C882.4,1153.6 885.2,1150.5 889.3,1148.5 C893.4,1146.5 898.4,1143.9 902.8,1142.6 C907.2,1141.3 911.1,1141.8 915.5,1140.9 C919.9,1140.1 924.5,1138.5 929.0,1137.5 C933.5,1136.5 938.1,1135.9 942.5,1134.6 C946.9,1133.3 951.7,1132.1 955.2,1129.6 C958.7,1127.1 960.9,1123.0 963.6,1119.4 C966.3,1115.8 968.7,1111.9 971.2,1108.0 C973.7,1104.1 976.3,1100.0 978.8,1096.1 C981.3,1092.1 983.7,1087.9 986.4,1084.3 C989.1,1080.7 991.8,1077.3 994.9,1074.2 C998.0,1071.1 1001.5,1067.2 1005.0,1065.4 C1008.5,1063.7 1012.9,1063.4 1016.0,1063.7 C1019.1,1064.0 1021.1,1066.2 1023.6,1067.4 C1026.1,1068.6 1029.9,1070.2 1031.2,1070.8" fill="none" stroke="#000" stroke-width="7.20" stroke-linecap="butt" stroke-linejoin="round" stroke-dasharray="7.2 6.5" clip-path="url(#clipC)"/>
<path d="M132.6,1153.2 C134.0,1154.3 138.2,1157.8 141.0,1160.0 C143.8,1162.2 146.7,1165.2 149.5,1166.7 C152.3,1168.2 155.1,1168.5 157.9,1168.9 C160.7,1169.3 163.6,1169.1 166.4,1168.9 C169.2,1168.7 172.0,1168.4 174.8,1167.6 C177.6,1166.8 180.5,1165.7 183.3,1164.2 C186.1,1162.7 188.9,1161.5 191.7,1158.8 C194.5,1156.1 197.5,1151.6 200.2,1148.1 C202.9,1144.6 205.4,1140.8 208.1,1138.0 C210.8,1135.2 213.7,1133.2 216.5,1131.2 C219.3,1129.2 222.2,1127.1 225.0,1126.2 C227.8,1125.3 230.6,1125.9 233.4,1125.7 C236.2,1125.5 239.1,1124.8 241.9,1125.0 C244.7,1125.2 247.5,1125.2 250.3,1126.7 C253.1,1128.2 256.0,1131.1 258.8,1133.8 C261.6,1136.5 264.4,1139.9 267.2,1143.1 C270.0,1146.3 272.9,1149.7 275.7,1153.2 C278.5,1156.7 281.1,1161.1 283.8,1164.2 C286.6,1167.3 289.4,1168.8 292.2,1171.8 C295.0,1174.8 297.8,1179.2 300.6,1182.4 C303.4,1185.6 306.3,1188.6 309.1,1190.9 C311.9,1193.2 314.7,1195.1 317.5,1196.3 C320.3,1197.5 323.2,1198.7 326.0,1198.0 C328.8,1197.3 331.6,1193.8 334.4,1192.0 C337.2,1190.2 340.1,1188.7 342.9,1187.5 C345.7,1186.3 348.6,1185.9 351.3,1185.0 C354.0,1184.1 356.4,1183.2 359.2,1182.2 C362.0,1181.2 365.4,1179.7 368.2,1179.0 C371.0,1178.3 373.3,1177.6 376.1,1178.0 C378.9,1178.4 382.2,1178.3 385.1,1181.4 C388.0,1184.5 390.7,1192.3 393.5,1196.6 C396.3,1200.9 399.2,1203.7 402.0,1207.2 C404.8,1210.7 407.6,1214.2 410.4,1217.4 C413.2,1220.6 416.0,1223.0 418.8,1226.3 C421.6,1229.6 424.5,1233.9 427.3,1237.1 C430.1,1240.3 433.0,1242.5 435.7,1245.6 C438.4,1248.6 441.0,1253.4 443.7,1255.4 C446.4,1257.5 449.3,1256.8 452.1,1257.9 C454.9,1259.0 457.8,1260.8 460.6,1262.1 C463.4,1263.4 466.2,1264.7 469.0,1265.8 C471.8,1266.9 474.7,1268.1 477.4,1268.9 C480.1,1269.7 482.7,1270.6 485.4,1270.6 C488.1,1270.6 491.0,1268.4 493.8,1268.9 C496.6,1269.4 499.5,1272.7 502.3,1273.6 C505.1,1274.5 507.9,1274.2 510.7,1274.3 C513.5,1274.4 516.4,1274.2 519.2,1274.3 C522.0,1274.4 524.8,1274.1 527.6,1274.8 C530.4,1275.5 533.2,1276.9 536.0,1278.7 C538.8,1280.5 541.7,1283.0 544.5,1285.8 C547.3,1288.6 550.1,1292.9 552.9,1295.6 C555.7,1298.3 558.6,1299.2 561.4,1301.8 C564.2,1304.4 567.0,1308.0 569.8,1311.1 C572.6,1314.2 575.5,1317.5 578.3,1320.4 C581.1,1323.4 583.6,1327.2 586.4,1328.8 C589.1,1330.4 592.0,1330.9 594.8,1330.0 C597.6,1329.1 600.4,1325.9 603.2,1323.3 C606.0,1320.7 608.9,1317.5 611.7,1314.2 C614.5,1310.9 617.3,1307.2 620.1,1303.5 C622.9,1299.8 625.8,1296.3 628.6,1292.2 C631.4,1288.1 634.2,1282.6 637.0,1278.7 C639.8,1274.8 642.7,1271.9 645.5,1268.6 C648.3,1265.3 651.1,1261.5 653.9,1259.1 C656.7,1256.7 659.6,1255.7 662.4,1254.0 C665.2,1252.3 668.0,1250.6 670.8,1249.0 C673.6,1247.4 676.4,1246.2 679.2,1244.4 C682.0,1242.6 684.9,1239.3 687.7,1238.2 C690.5,1237.1 693.4,1238.8 696.1,1237.6 C698.8,1236.4 701.4,1232.6 704.1,1230.9 C706.8,1229.2 709.7,1228.2 712.5,1227.5 C715.3,1226.8 718.2,1227.0 721.0,1227.0 C723.8,1227.0 726.6,1226.9 729.4,1227.5 C732.2,1228.1 735.0,1228.7 737.8,1230.4 C740.6,1232.1 743.5,1235.5 746.3,1237.6 C749.1,1239.6 752.0,1240.6 754.7,1242.7 C757.4,1244.8 760.0,1248.1 762.7,1250.0 C765.4,1251.9 768.3,1253.0 771.1,1254.0 C773.9,1255.0 776.8,1255.8 779.6,1256.2 C782.4,1256.6 785.2,1256.9 788.0,1256.2 C790.8,1255.5 793.7,1254.5 796.5,1252.3 C799.3,1250.1 802.1,1246.2 804.9,1243.2 C807.7,1240.2 810.5,1237.1 813.3,1234.3 C816.1,1231.5 819.0,1228.4 821.8,1226.5 C824.6,1224.6 827.4,1224.0 830.2,1223.1 C833.0,1222.1 835.8,1223.6 838.6,1220.8 C841.4,1218.0 844.3,1210.9 847.1,1206.2 C849.9,1201.5 852.7,1196.8 855.5,1192.7 C858.3,1188.7 861.2,1185.6 864.0,1181.9 C866.8,1178.2 869.6,1174.6 872.4,1170.4 C875.1,1166.2 877.7,1161.7 880.5,1156.6 C883.3,1151.5 886.2,1145.3 889.0,1140.0 C891.8,1134.7 894.6,1125.9 897.4,1124.5 C900.2,1123.1 903.2,1128.6 905.9,1131.6 C908.6,1134.6 911.1,1139.4 913.8,1142.6 C916.5,1145.8 919.4,1149.0 922.2,1151.0 C925.0,1153.0 927.9,1153.1 930.7,1154.4 C933.5,1155.7 936.3,1156.6 939.1,1158.6 C941.9,1160.6 944.8,1163.8 947.6,1166.2 C950.4,1168.6 953.2,1172.8 956.0,1173.0 C958.8,1173.2 961.7,1169.1 964.5,1167.1 C967.3,1165.1 970.1,1162.8 972.9,1161.2 C975.7,1159.7 978.6,1157.4 981.4,1157.8 C984.2,1158.2 987.0,1161.9 989.8,1163.7 C992.6,1165.5 995.4,1167.7 998.2,1168.8 C1001.0,1169.9 1003.9,1169.8 1006.7,1170.4 C1009.5,1171.0 1012.3,1171.9 1015.1,1172.5 C1017.9,1173.1 1020.8,1172.8 1023.6,1173.8 C1026.4,1174.8 1030.6,1177.8 1032.0,1178.6" fill="none" stroke="#000" stroke-width="5.00" stroke-linecap="round" stroke-linejoin="round" stroke-dasharray="0.01 8.45" clip-path="url(#clipC)"/>
<line x1="133.3" y1="1212.6" x2="1032.5" y2="1212.6" stroke="#000" stroke-width="2.00" stroke-opacity="0.5"/>
<line x1="133.3" y1="1018.6" x2="133.3" y2="1027.6" stroke="#505050" stroke-width="1.70" />
<line x1="133.3" y1="1397.6" x2="133.3" y2="1406.6" stroke="#505050" stroke-width="1.70" />
<line x1="234.0" y1="1018.6" x2="234.0" y2="1027.6" stroke="#505050" stroke-width="1.70" />
<line x1="234.0" y1="1397.6" x2="234.0" y2="1406.6" stroke="#505050" stroke-width="1.70" />
<line x1="334.6" y1="1018.6" x2="334.6" y2="1027.6" stroke="#505050" stroke-width="1.70" />
<line x1="334.6" y1="1397.6" x2="334.6" y2="1406.6" stroke="#505050" stroke-width="1.70" />
<line x1="435.3" y1="1018.6" x2="435.3" y2="1027.6" stroke="#505050" stroke-width="1.70" />
<line x1="435.3" y1="1397.6" x2="435.3" y2="1406.6" stroke="#505050" stroke-width="1.70" />
<line x1="535.9" y1="1018.6" x2="535.9" y2="1027.6" stroke="#505050" stroke-width="1.70" />
<line x1="535.9" y1="1397.6" x2="535.9" y2="1406.6" stroke="#505050" stroke-width="1.70" />
<line x1="636.5" y1="1018.6" x2="636.5" y2="1027.6" stroke="#505050" stroke-width="1.70" />
<line x1="636.5" y1="1397.6" x2="636.5" y2="1406.6" stroke="#505050" stroke-width="1.70" />
<line x1="737.2" y1="1018.6" x2="737.2" y2="1027.6" stroke="#505050" stroke-width="1.70" />
<line x1="737.2" y1="1397.6" x2="737.2" y2="1406.6" stroke="#505050" stroke-width="1.70" />
<line x1="837.9" y1="1018.6" x2="837.9" y2="1027.6" stroke="#505050" stroke-width="1.70" />
<line x1="837.9" y1="1397.6" x2="837.9" y2="1406.6" stroke="#505050" stroke-width="1.70" />
<line x1="938.5" y1="1018.6" x2="938.5" y2="1027.6" stroke="#505050" stroke-width="1.70" />
<line x1="938.5" y1="1397.6" x2="938.5" y2="1406.6" stroke="#505050" stroke-width="1.70" />
<line x1="132.5" y1="1027.6" x2="1033.3" y2="1027.6" stroke="#505050" stroke-width="1.70" />
<line x1="132.5" y1="1397.6" x2="1033.3" y2="1397.6" stroke="#505050" stroke-width="1.70" />
<line x1="133.3" y1="1027.6" x2="133.3" y2="1397.6" stroke="#505050" stroke-width="1.70" />
<line x1="1032.5" y1="1027.6" x2="1032.5" y2="1397.6" stroke="#505050" stroke-width="1.70" />
<line x1="124.3" y1="1027.6" x2="133.3" y2="1027.6" stroke="#505050" stroke-width="1.70" />
<line x1="1032.5" y1="1027.6" x2="1041.0" y2="1027.6" stroke="#505050" stroke-width="1.70" />
<line x1="124.3" y1="1120.1" x2="133.3" y2="1120.1" stroke="#505050" stroke-width="1.70" />
<line x1="1032.5" y1="1120.1" x2="1041.0" y2="1120.1" stroke="#505050" stroke-width="1.70" />
<line x1="124.3" y1="1212.6" x2="133.3" y2="1212.6" stroke="#505050" stroke-width="1.70" />
<line x1="1032.5" y1="1212.6" x2="1041.0" y2="1212.6" stroke="#505050" stroke-width="1.70" />
<line x1="124.3" y1="1305.1" x2="133.3" y2="1305.1" stroke="#505050" stroke-width="1.70" />
<line x1="1032.5" y1="1305.1" x2="1041.0" y2="1305.1" stroke="#505050" stroke-width="1.70" />
<line x1="124.3" y1="1397.6" x2="133.3" y2="1397.6" stroke="#505050" stroke-width="1.70" />
<line x1="1032.5" y1="1397.6" x2="1041.0" y2="1397.6" stroke="#505050" stroke-width="1.70" />
<text x="113.4" y="1039.6" font-size="31.5" text-anchor="end" font-weight="bold" font-style="normal" fill="#262626"  stroke="#262626" stroke-width="0.55" stroke-linejoin="round">3</text>
<text x="113.4" y="1132.1" font-size="31.5" text-anchor="end" font-weight="bold" font-style="normal" fill="#262626"  stroke="#262626" stroke-width="0.55" stroke-linejoin="round">1.5</text>
<text x="113.4" y="1224.6" font-size="31.5" text-anchor="end" font-weight="bold" font-style="normal" fill="#262626"  stroke="#262626" stroke-width="0.55" stroke-linejoin="round">0</text>
<text x="113.4" y="1317.1" font-size="31.5" text-anchor="end" font-weight="bold" font-style="normal" fill="#262626"  stroke="#262626" stroke-width="0.55" stroke-linejoin="round">-1.5</text>
<text x="113.4" y="1409.6" font-size="31.5" text-anchor="end" font-weight="bold" font-style="normal" fill="#262626"  stroke="#262626" stroke-width="0.55" stroke-linejoin="round">-3</text>
<line x1="137.8" y1="1005.1" x2="153.0" y2="1020.3" stroke="#262626" stroke-width="1.90" />
<line x1="137.8" y1="1020.3" x2="153.0" y2="1005.1" stroke="#262626" stroke-width="1.90" />
<text x="159.8" y="1020.2" font-size="31.0" text-anchor="start" font-weight="bold" font-style="normal" fill="#262626"  stroke="#262626" stroke-width="0.55" stroke-linejoin="round">10</text>
<text x="194.5" y="1005.4" font-size="23.5" text-anchor="start" font-weight="bold" font-style="normal" fill="#262626" textLength="23.0" lengthAdjust="spacingAndGlyphs"  stroke="#262626" stroke-width="0.55" stroke-linejoin="round">-8</text>
<line x1="1058.3" y1="1032.2" x2="1129.4" y2="1032.2" stroke="#000" stroke-width="6.70" stroke-dasharray="6.9 6.9"/>
<circle cx="1094.2" cy="1067.4" r="3.2" fill="#000"/>
<line x1="1059.0" y1="1102.9" x2="1129.0" y2="1102.9" stroke="#555" stroke-width="1.30" />
<text x="1136.8" y="1041.7" font-size="27.5" text-anchor="start" font-weight="bold" font-style="italic" fill="#000" textLength="67.0" lengthAdjust="spacingAndGlyphs"  stroke="#000" stroke-width="0.55" stroke-linejoin="round">Hmix</text>
<text x="1138.2" y="1077.3" font-size="27.5" text-anchor="start" font-weight="bold" font-style="italic" fill="#000" textLength="63.0" lengthAdjust="spacingAndGlyphs"  stroke="#000" stroke-width="0.55" stroke-linejoin="round">Vmix</text>
<text x="1137.3" y="1113.4" font-size="27.5" text-anchor="start" font-weight="bold" font-style="normal" fill="#000" textLength="70.0" lengthAdjust="spacingAndGlyphs"  stroke="#000" stroke-width="0.55" stroke-linejoin="round">data1</text>
<text transform="translate(43,1212) rotate(-90)" font-size="29" font-weight="bold" text-anchor="middle" fill="#262626" stroke="#262626" stroke-width="0.55" textLength="129" lengthAdjust="spacing">[ <tspan font-family="&quot;Liberation Serif&quot;, serif" font-style="italic" font-weight="normal" stroke-width="0.45">μ</tspan>M s<tspan dy="-13" font-size="22.5">-1</tspan><tspan dy="13"> ]</tspan></text>
<text x="0.0" y="987.5" font-size="30.0" text-anchor="start" font-weight="bold" font-style="normal" fill="#000"  stroke="#000" stroke-width="0.55" stroke-linejoin="round">C</text>
<path d="M133.3,1727.6 C283.2,1727.6 882.6,1727.6 1032.5,1727.6" fill="none" stroke="#6f6f20" stroke-width="2.60" stroke-linecap="butt" stroke-linejoin="round" clip-path="url(#clipD)"/>
<path d="M132.6,1722.7 C135.6,1722.6 143.1,1722.3 150.3,1722.2 C157.5,1722.1 168.6,1721.9 175.7,1722.2 C182.8,1722.5 185.6,1723.2 192.6,1723.9 C199.6,1724.6 209.5,1725.3 217.9,1726.1 C226.3,1726.8 234.8,1727.8 243.2,1728.4 C251.6,1729.0 261.6,1729.6 268.6,1729.8 C275.6,1730.0 279.8,1730.2 285.4,1729.8 C291.0,1729.4 296.7,1728.1 302.3,1727.2 C307.9,1726.3 312.1,1725.0 319.2,1724.4 C326.2,1723.8 337.0,1723.4 344.6,1723.4 C352.2,1723.4 359.6,1723.9 365.0,1724.4 C370.4,1725.0 371.6,1726.5 377.0,1726.7 C382.4,1726.9 389.6,1725.6 397.2,1725.6 C404.8,1725.6 413.6,1726.3 422.6,1726.7 C431.6,1727.1 442.9,1728.6 451.3,1728.1 C459.7,1727.5 465.3,1724.4 473.2,1723.4 C481.1,1722.4 491.6,1722.2 498.6,1722.2 C505.6,1722.2 509.8,1723.0 515.4,1723.4 C521.0,1723.8 526.1,1724.4 532.3,1724.4 C538.5,1724.4 545.5,1724.1 552.6,1723.4 C559.7,1722.8 569.2,1721.3 574.6,1720.5 C580.0,1719.7 581.0,1719.3 585.0,1718.8 C589.0,1718.3 594.0,1717.3 598.5,1717.6 C603.0,1717.9 607.2,1719.3 612.0,1720.5 C616.8,1721.7 621.0,1723.3 627.2,1724.7 C633.4,1726.1 642.2,1728.1 649.2,1728.9 C656.2,1729.7 662.6,1729.5 669.4,1729.4 C676.1,1729.3 682.7,1728.6 689.7,1728.1 C696.8,1727.5 703.8,1726.5 711.7,1726.1 C719.6,1725.7 728.6,1725.3 737.0,1725.6 C745.4,1725.9 753.8,1727.1 762.3,1728.1 C770.8,1729.1 780.7,1730.2 787.7,1731.5 C794.8,1732.8 800.1,1734.9 804.6,1735.7 C809.1,1736.5 810.5,1737.0 815.0,1736.5 C819.5,1736.0 826.3,1733.9 831.9,1732.8 C837.5,1731.7 841.8,1730.7 848.8,1729.8 C855.8,1728.9 865.7,1727.5 874.1,1727.2 C882.5,1726.9 892.4,1728.3 899.4,1728.1 C906.4,1727.9 910.7,1726.8 916.3,1726.1 C921.9,1725.4 926.2,1724.4 933.2,1723.9 C940.2,1723.5 951.6,1722.9 958.6,1723.4 C965.6,1724.0 970.1,1726.3 975.4,1727.2 C980.7,1728.1 985.0,1729.1 990.6,1728.9 C996.2,1728.7 1003.9,1726.9 1009.2,1726.1 C1014.6,1725.3 1019.0,1724.8 1022.7,1723.9 C1026.4,1723.1 1029.8,1721.5 1031.2,1721.0" fill="none" stroke="#12a9ad" stroke-width="3.10" stroke-linecap="butt" stroke-linejoin="round" clip-path="url(#clipD)"/>
<path d="M132.6,1803.2 C134.2,1801.4 138.4,1796.0 141.9,1792.3 C145.4,1788.6 149.5,1784.5 153.7,1781.3 C157.9,1778.0 162.7,1774.9 167.2,1772.8 C171.7,1770.7 176.8,1769.4 180.7,1768.6 C184.6,1767.8 187.5,1767.6 190.9,1767.8 C194.3,1768.0 196.8,1768.9 201.0,1769.5 C205.2,1770.1 210.8,1770.8 216.2,1771.2 C221.5,1771.6 227.5,1771.3 233.1,1771.7 C238.7,1772.1 244.1,1773.7 250.0,1773.7 C255.9,1773.8 262.7,1772.5 268.6,1772.0 C274.5,1771.5 279.8,1770.8 285.4,1770.8 C291.0,1770.8 297.2,1771.4 302.3,1772.0 C307.4,1772.6 310.5,1773.4 315.8,1774.5 C321.1,1775.6 329.6,1778.1 334.4,1778.4 C339.2,1778.7 340.9,1777.8 344.6,1776.2 C348.3,1774.6 353.0,1771.3 356.4,1768.6 C359.8,1765.9 361.7,1763.8 365.1,1760.2 C368.5,1756.6 373.1,1751.2 377.0,1746.7 C380.9,1742.2 385.2,1737.2 388.8,1733.2 C392.4,1729.2 395.2,1726.0 398.9,1723.0 C402.5,1720.0 406.2,1717.9 410.7,1715.4 C415.2,1712.9 421.1,1710.8 425.9,1707.8 C430.7,1704.8 434.9,1700.9 439.4,1697.7 C443.9,1694.5 448.5,1691.4 453.0,1688.4 C457.5,1685.5 462.3,1682.2 466.5,1680.0 C470.7,1677.8 474.7,1675.8 478.3,1675.4 C481.9,1675.0 485.0,1675.9 488.4,1677.4 C491.8,1678.9 494.9,1681.4 498.6,1684.2 C502.3,1687.0 506.2,1690.8 510.4,1694.3 C514.6,1697.8 520.0,1702.6 523.9,1705.3 C527.8,1708.0 530.6,1709.3 534.0,1710.4 C537.4,1711.5 540.5,1712.3 544.2,1712.0 C547.9,1711.7 552.4,1710.0 556.0,1708.7 C559.6,1707.4 562.7,1705.2 566.1,1704.4 C569.5,1703.6 572.5,1703.3 576.2,1703.6 C579.9,1703.9 585.0,1705.4 588.1,1706.1 C591.2,1706.8 592.0,1706.4 595.1,1707.8 C598.2,1709.2 603.0,1711.8 607.0,1714.6 C611.0,1717.4 614.6,1721.3 618.8,1724.7 C623.0,1728.1 627.5,1732.3 632.3,1734.8 C637.1,1737.3 642.7,1739.5 647.5,1739.9 C652.3,1740.3 657.1,1739.1 661.0,1737.4 C664.9,1735.7 667.7,1733.6 671.1,1729.8 C674.5,1726.0 677.6,1720.2 681.3,1714.6 C685.0,1709.0 688.9,1702.0 693.1,1696.0 C697.3,1690.0 702.1,1683.1 706.6,1678.3 C711.1,1673.5 715.9,1669.8 720.1,1667.3 C724.3,1664.8 728.2,1663.8 731.9,1663.6 C735.6,1663.4 738.7,1664.4 742.1,1666.4 C745.5,1668.4 748.6,1671.3 752.2,1675.7 C755.9,1680.1 760.1,1686.7 764.0,1692.6 C767.9,1698.5 771.8,1705.6 775.8,1711.2 C779.8,1716.8 784.0,1722.3 787.7,1726.4 C791.4,1730.5 794.7,1733.7 797.8,1735.7 C800.9,1737.7 803.4,1738.1 806.2,1738.2 C809.0,1738.3 811.6,1738.8 814.7,1736.5 C817.9,1734.2 821.4,1729.2 825.1,1724.7 C828.8,1720.2 833.0,1714.3 837.0,1709.5 C841.0,1704.7 844.9,1699.9 848.8,1696.0 C852.7,1692.1 856.7,1688.6 860.6,1685.9 C864.5,1683.2 868.7,1681.1 872.4,1680.0 C876.1,1678.9 878.6,1679.1 882.6,1679.4 C886.6,1679.7 891.6,1680.9 896.1,1681.6 C900.6,1682.2 905.1,1682.7 909.6,1683.3 C914.1,1683.9 918.6,1683.5 923.1,1685.0 C927.6,1686.5 932.4,1689.1 936.6,1692.6 C940.8,1696.1 944.7,1701.6 948.4,1706.1 C952.1,1710.6 955.2,1714.8 958.6,1719.6 C962.0,1724.4 965.1,1729.7 968.7,1734.8 C972.4,1739.9 976.6,1745.5 980.5,1750.0 C984.4,1754.5 988.1,1758.9 992.3,1761.9 C996.5,1765.0 1001.6,1767.5 1005.8,1768.3 C1010.0,1769.1 1013.5,1767.5 1017.7,1766.6 C1021.9,1765.7 1029.0,1763.3 1031.2,1762.7" fill="none" stroke="#ffc300" stroke-width="2.90" stroke-linecap="butt" stroke-linejoin="round" clip-path="url(#clipD)"/>
<path d="M132.6,1719.6 C134.2,1717.1 138.4,1709.7 141.9,1704.4 C145.4,1699.1 149.5,1692.9 153.7,1687.6 C157.9,1682.3 162.4,1676.9 167.2,1672.4 C172.0,1667.9 177.6,1663.3 182.4,1660.5 C187.2,1657.7 191.4,1657.3 195.9,1655.5 C200.4,1653.7 204.3,1651.1 209.4,1649.6 C214.5,1648.0 221.2,1646.1 226.3,1646.2 C231.4,1646.3 235.9,1648.6 239.8,1650.4 C243.8,1652.2 246.6,1653.8 250.0,1657.2 C253.4,1660.6 256.7,1665.4 260.1,1670.7 C263.5,1676.0 266.8,1683.0 270.2,1689.2 C273.6,1695.4 277.3,1702.7 280.4,1707.8 C283.5,1712.9 286.3,1716.6 288.8,1719.6 C291.3,1722.6 293.1,1724.5 295.6,1725.6 C298.1,1726.7 300.6,1727.7 304.0,1726.4 C307.4,1725.1 311.9,1721.9 315.8,1718.0 C319.8,1714.1 323.8,1707.9 327.7,1702.8 C331.6,1697.7 335.9,1691.1 339.5,1687.6 C343.1,1684.1 346.7,1682.5 349.6,1681.6 C352.5,1680.7 353.3,1680.8 357.0,1682.3 C360.7,1683.8 367.4,1687.2 371.9,1690.9 C376.3,1694.6 379.8,1699.9 383.7,1704.4 C387.6,1708.9 391.8,1714.0 395.5,1718.0 C399.2,1722.0 401.8,1724.7 405.7,1728.1 C409.6,1731.5 414.4,1735.1 419.2,1738.2 C424.0,1741.3 429.3,1744.5 434.4,1746.7 C439.5,1749.0 444.2,1750.4 449.6,1751.7 C455.0,1753.0 460.6,1753.7 466.5,1754.3 C472.4,1754.9 480.5,1754.5 485.0,1755.1 C489.5,1755.6 490.4,1756.3 493.5,1757.6 C496.6,1758.9 500.0,1761.5 503.6,1762.7 C507.2,1763.9 511.2,1764.5 515.4,1764.9 C519.6,1765.3 524.8,1765.3 529.0,1764.9 C533.2,1764.5 537.1,1764.2 540.8,1762.7 C544.4,1761.2 547.5,1759.0 550.9,1756.0 C554.3,1753.0 557.3,1749.4 561.0,1745.0 C564.7,1740.6 569.2,1734.6 572.9,1729.8 C576.6,1725.0 579.9,1720.5 583.0,1716.3 C586.1,1712.1 588.6,1708.6 591.8,1704.4 C594.9,1700.2 598.2,1695.1 601.9,1690.9 C605.5,1686.7 609.8,1682.2 613.7,1679.1 C617.6,1676.0 621.8,1673.8 625.5,1672.4 C629.2,1671.0 632.0,1670.3 635.7,1670.7 C639.4,1671.1 643.3,1673.2 647.5,1674.9 C651.7,1676.6 656.2,1678.3 661.0,1680.8 C665.8,1683.3 671.1,1686.9 676.2,1690.1 C681.3,1693.3 686.3,1697.1 691.4,1700.2 C696.5,1703.3 701.8,1705.6 706.6,1708.7 C711.4,1711.8 715.6,1716.3 720.1,1718.8 C724.6,1721.2 729.4,1722.6 733.6,1723.4 C737.8,1724.2 741.5,1724.5 745.4,1723.9 C749.3,1723.3 753.3,1721.7 757.3,1719.6 C761.2,1717.5 765.2,1714.4 769.1,1711.2 C773.0,1708.0 777.2,1702.5 780.9,1700.2 C784.5,1697.9 788.2,1697.7 791.0,1697.4 C793.8,1697.1 795.5,1697.3 797.8,1698.5 C800.1,1699.7 802.4,1701.2 804.6,1704.4 C806.9,1707.7 809.0,1712.9 811.3,1718.0 C813.5,1723.1 815.4,1727.8 818.1,1734.8 C820.8,1741.8 824.9,1753.0 827.4,1760.0 C829.9,1767.0 831.1,1770.3 833.0,1776.9 C834.9,1783.5 836.7,1791.9 838.6,1799.4 C840.5,1806.9 842.2,1814.4 844.3,1821.9 C846.4,1829.4 848.9,1838.6 851.0,1844.4 C853.1,1850.2 854.8,1852.8 856.7,1856.8 C858.6,1860.8 859.9,1864.6 862.3,1868.1 C864.7,1871.6 868.3,1875.5 871.3,1877.7 C874.3,1879.9 877.5,1880.9 880.3,1881.0 C883.1,1881.1 885.4,1880.2 888.2,1878.2 C891.0,1876.2 894.2,1872.4 897.2,1869.2 C900.2,1866.0 903.6,1863.0 906.2,1859.1 C908.8,1855.2 910.6,1850.5 913.0,1845.6 C915.4,1840.7 917.6,1836.8 920.8,1829.8 C924.0,1822.8 928.0,1813.0 932.2,1803.9 C936.5,1794.8 942.2,1782.9 946.3,1775.0 C950.4,1767.1 954.0,1762.1 956.9,1756.7 C959.8,1751.3 961.0,1747.2 963.9,1742.7 C966.8,1738.2 971.1,1733.6 974.4,1730.0 C977.7,1726.4 980.6,1723.0 983.9,1721.3 C987.2,1719.6 991.2,1719.6 994.0,1719.6 C996.8,1719.6 998.3,1719.9 1000.8,1721.3 C1003.3,1722.7 1006.1,1724.7 1009.2,1728.1 C1012.3,1731.5 1015.7,1736.0 1019.4,1741.6 C1023.1,1747.2 1029.2,1758.5 1031.2,1761.9" fill="none" stroke="#a820b0" stroke-width="2.80" stroke-linecap="butt" stroke-linejoin="round" clip-path="url(#clipD)"/>
<path d="M132.6,1795.6 C133.6,1792.2 136.4,1781.9 138.5,1775.4 C140.6,1768.9 142.8,1763.3 145.3,1756.8 C147.8,1750.3 150.8,1742.7 153.7,1736.5 C156.6,1730.3 159.6,1724.8 163.0,1719.6 C166.4,1714.4 170.5,1708.9 174.0,1705.3 C177.5,1701.7 180.2,1699.2 184.1,1697.7 C188.0,1696.2 193.4,1696.8 197.6,1696.0 C201.8,1695.2 205.2,1693.7 209.4,1693.0 C213.6,1692.3 219.1,1691.6 223.0,1691.8 C226.9,1692.0 229.2,1692.3 233.1,1694.3 C237.0,1696.3 242.7,1700.1 246.6,1703.6 C250.5,1707.1 253.6,1711.3 256.7,1715.4 C259.8,1719.5 262.4,1723.2 265.2,1728.1 C268.0,1733.0 270.5,1739.4 273.6,1745.0 C276.7,1750.6 280.4,1757.4 283.8,1761.9 C287.2,1766.4 290.9,1769.8 293.9,1772.0 C296.8,1774.2 298.7,1775.1 301.5,1775.0 C304.3,1774.9 307.3,1773.4 310.8,1771.2 C314.3,1769.0 319.0,1765.7 322.6,1761.9 C326.2,1758.1 329.3,1752.9 332.7,1748.4 C336.1,1743.9 339.5,1738.8 342.9,1734.8 C346.3,1730.8 349.3,1727.4 353.0,1724.7 C356.7,1722.0 361.4,1719.9 365.1,1718.8 C368.8,1717.7 371.9,1718.3 375.3,1718.0 C378.7,1717.7 381.8,1716.8 385.4,1717.1 C389.0,1717.4 393.3,1718.8 397.2,1719.6 C401.1,1720.4 404.2,1721.6 409.0,1722.2 C413.8,1722.8 421.1,1723.3 425.9,1723.0 C430.7,1722.7 433.6,1721.8 437.8,1720.5 C442.0,1719.2 446.8,1717.5 451.3,1715.4 C455.8,1713.3 460.3,1710.2 464.8,1707.8 C469.3,1705.4 474.7,1702.1 478.3,1701.1 C481.9,1700.1 483.9,1700.5 486.7,1701.9 C489.5,1703.3 492.4,1706.3 495.2,1709.5 C498.0,1712.7 500.8,1717.3 503.6,1721.3 C506.4,1725.2 508.7,1729.7 512.1,1733.2 C515.5,1736.7 519.7,1739.9 523.9,1742.4 C528.1,1744.9 533.8,1747.8 537.4,1748.4 C541.0,1749.0 543.0,1748.1 545.8,1745.8 C548.6,1743.5 551.5,1739.4 554.3,1734.8 C557.1,1730.2 559.6,1723.6 562.7,1718.0 C565.8,1712.4 569.2,1706.6 572.9,1701.1 C576.6,1695.6 581.3,1689.2 584.7,1685.0 C588.1,1680.8 590.5,1678.5 593.4,1675.7 C596.3,1672.9 598.9,1669.8 601.9,1668.1 C604.9,1666.4 607.8,1665.3 611.2,1665.6 C614.6,1665.9 618.4,1667.7 622.2,1669.8 C626.0,1671.9 630.4,1675.2 634.0,1678.3 C637.6,1681.4 640.5,1685.7 644.1,1688.4 C647.8,1691.1 652.0,1693.3 655.9,1694.3 C659.8,1695.3 663.8,1695.1 667.8,1694.3 C671.8,1693.5 675.7,1691.7 679.6,1689.2 C683.5,1686.7 687.5,1683.0 691.4,1679.1 C695.3,1675.2 699.5,1669.0 703.2,1665.6 C706.9,1662.2 709.2,1659.5 713.4,1658.5 C717.6,1657.5 724.1,1658.9 728.6,1659.7 C733.1,1660.5 736.5,1661.0 740.4,1663.1 C744.3,1665.2 748.3,1668.8 752.2,1672.4 C756.1,1676.1 760.1,1681.2 764.0,1685.0 C767.9,1688.8 772.1,1692.2 775.8,1695.2 C779.5,1698.2 782.6,1699.6 786.0,1702.8 C789.4,1706.0 793.0,1710.9 796.1,1714.6 C799.2,1718.2 801.8,1720.5 804.6,1724.7 C807.4,1728.9 809.9,1734.3 813.0,1740.0 C816.1,1745.7 819.8,1752.8 823.0,1759.0 C826.2,1765.2 828.8,1770.8 832.0,1777.0 C835.2,1783.2 839.1,1790.5 842.5,1796.5 C845.9,1802.5 848.9,1807.2 852.2,1812.7 C855.5,1818.2 859.2,1826.0 862.3,1829.6 C865.4,1833.1 868.0,1832.9 871.0,1834.0 C874.0,1835.1 877.6,1836.2 880.5,1836.2 C883.4,1836.2 886.3,1835.0 888.5,1834.0 C890.7,1833.0 891.9,1831.3 893.5,1830.0 C895.1,1828.7 896.2,1827.9 898.0,1826.0 C899.8,1824.1 902.1,1821.6 904.1,1818.7 C906.1,1815.8 908.0,1812.3 909.7,1808.8 C911.5,1805.3 913.0,1801.3 914.6,1797.6 C916.2,1793.8 917.8,1789.8 919.6,1786.3 C921.4,1782.8 923.1,1779.9 925.2,1776.4 C927.3,1772.9 929.9,1768.5 932.2,1765.2 C934.6,1761.9 936.9,1759.3 939.3,1756.7 C941.6,1754.1 944.0,1751.8 946.3,1749.7 C948.6,1747.6 950.9,1745.5 953.3,1744.1 C955.6,1742.7 958.5,1741.9 960.4,1741.3 C962.3,1740.7 963.1,1740.5 964.6,1740.6 C966.1,1740.7 967.3,1740.7 969.5,1742.0 C971.7,1743.3 974.6,1746.1 978.0,1748.3 C981.4,1750.5 986.2,1752.6 990.0,1755.3 C993.8,1758.0 997.0,1761.3 1000.8,1764.4 C1004.6,1767.5 1009.0,1770.5 1012.6,1773.7 C1016.2,1776.9 1019.6,1780.7 1022.7,1783.8 C1025.8,1786.9 1029.8,1790.9 1031.2,1792.3" fill="none" stroke="#00ff00" stroke-width="4.10" stroke-linecap="butt" stroke-linejoin="round" clip-path="url(#clipD)"/>
<line x1="133.3" y1="1726.4" x2="1032.5" y2="1726.4" stroke="#000" stroke-width="1.60" />
<line x1="133.3" y1="1533.3" x2="133.3" y2="1542.3" stroke="#505050" stroke-width="1.70" />
<line x1="133.3" y1="1911.8" x2="133.3" y2="1920.8" stroke="#505050" stroke-width="1.70" />
<line x1="234.0" y1="1533.3" x2="234.0" y2="1542.3" stroke="#505050" stroke-width="1.70" />
<line x1="234.0" y1="1911.8" x2="234.0" y2="1920.8" stroke="#505050" stroke-width="1.70" />
<line x1="334.6" y1="1533.3" x2="334.6" y2="1542.3" stroke="#505050" stroke-width="1.70" />
<line x1="334.6" y1="1911.8" x2="334.6" y2="1920.8" stroke="#505050" stroke-width="1.70" />
<line x1="435.3" y1="1533.3" x2="435.3" y2="1542.3" stroke="#505050" stroke-width="1.70" />
<line x1="435.3" y1="1911.8" x2="435.3" y2="1920.8" stroke="#505050" stroke-width="1.70" />
<line x1="535.9" y1="1533.3" x2="535.9" y2="1542.3" stroke="#505050" stroke-width="1.70" />
<line x1="535.9" y1="1911.8" x2="535.9" y2="1920.8" stroke="#505050" stroke-width="1.70" />
<line x1="636.5" y1="1533.3" x2="636.5" y2="1542.3" stroke="#505050" stroke-width="1.70" />
<line x1="636.5" y1="1911.8" x2="636.5" y2="1920.8" stroke="#505050" stroke-width="1.70" />
<line x1="737.2" y1="1533.3" x2="737.2" y2="1542.3" stroke="#505050" stroke-width="1.70" />
<line x1="737.2" y1="1911.8" x2="737.2" y2="1920.8" stroke="#505050" stroke-width="1.70" />
<line x1="837.9" y1="1533.3" x2="837.9" y2="1542.3" stroke="#505050" stroke-width="1.70" />
<line x1="837.9" y1="1911.8" x2="837.9" y2="1920.8" stroke="#505050" stroke-width="1.70" />
<line x1="938.5" y1="1533.3" x2="938.5" y2="1542.3" stroke="#505050" stroke-width="1.70" />
<line x1="938.5" y1="1911.8" x2="938.5" y2="1920.8" stroke="#505050" stroke-width="1.70" />
<line x1="132.5" y1="1542.3" x2="1033.3" y2="1542.3" stroke="#505050" stroke-width="1.70" />
<line x1="132.5" y1="1911.8" x2="1033.3" y2="1911.8" stroke="#505050" stroke-width="1.70" />
<line x1="133.3" y1="1542.3" x2="133.3" y2="1911.8" stroke="#505050" stroke-width="1.70" />
<line x1="1032.5" y1="1542.3" x2="1032.5" y2="1911.8" stroke="#505050" stroke-width="1.70" />
<line x1="124.3" y1="1542.3" x2="133.3" y2="1542.3" stroke="#505050" stroke-width="1.70" />
<line x1="1032.5" y1="1542.3" x2="1041.0" y2="1542.3" stroke="#505050" stroke-width="1.70" />
<line x1="124.3" y1="1634.7" x2="133.3" y2="1634.7" stroke="#505050" stroke-width="1.70" />
<line x1="1032.5" y1="1634.7" x2="1041.0" y2="1634.7" stroke="#505050" stroke-width="1.70" />
<line x1="124.3" y1="1727.0" x2="133.3" y2="1727.0" stroke="#505050" stroke-width="1.70" />
<line x1="1032.5" y1="1727.0" x2="1041.0" y2="1727.0" stroke="#505050" stroke-width="1.70" />
<line x1="124.3" y1="1819.4" x2="133.3" y2="1819.4" stroke="#505050" stroke-width="1.70" />
<line x1="1032.5" y1="1819.4" x2="1041.0" y2="1819.4" stroke="#505050" stroke-width="1.70" />
<line x1="124.3" y1="1911.8" x2="133.3" y2="1911.8" stroke="#505050" stroke-width="1.70" />
<line x1="1032.5" y1="1911.8" x2="1041.0" y2="1911.8" stroke="#505050" stroke-width="1.70" />
<text x="112.4" y="1554.6" font-size="31.5" text-anchor="end" font-weight="bold" font-style="normal" fill="#262626"  stroke="#262626" stroke-width="0.55" stroke-linejoin="round">4</text>
<text x="112.4" y="1647.0" font-size="31.5" text-anchor="end" font-weight="bold" font-style="normal" fill="#262626"  stroke="#262626" stroke-width="0.55" stroke-linejoin="round">2</text>
<text x="112.4" y="1739.3" font-size="31.5" text-anchor="end" font-weight="bold" font-style="normal" fill="#262626"  stroke="#262626" stroke-width="0.55" stroke-linejoin="round">0</text>
<text x="112.4" y="1831.7" font-size="31.5" text-anchor="end" font-weight="bold" font-style="normal" fill="#262626"  stroke="#262626" stroke-width="0.55" stroke-linejoin="round">-2</text>
<text x="112.4" y="1924.1" font-size="31.5" text-anchor="end" font-weight="bold" font-style="normal" fill="#262626"  stroke="#262626" stroke-width="0.55" stroke-linejoin="round">-4</text>
<line x1="137.8" y1="1519.8" x2="153.0" y2="1535.0" stroke="#262626" stroke-width="1.90" />
<line x1="137.8" y1="1535.0" x2="153.0" y2="1519.8" stroke="#262626" stroke-width="1.90" />
<text x="159.8" y="1535.0" font-size="31.0" text-anchor="start" font-weight="bold" font-style="normal" fill="#262626"  stroke="#262626" stroke-width="0.55" stroke-linejoin="round">10</text>
<text x="194.5" y="1520.2" font-size="23.5" text-anchor="start" font-weight="bold" font-style="normal" fill="#262626" textLength="23.0" lengthAdjust="spacingAndGlyphs"  stroke="#262626" stroke-width="0.55" stroke-linejoin="round">-7</text>
<text x="133.6" y="1961.3" font-size="31.5" text-anchor="middle" font-weight="bold" font-style="normal" fill="#262626"  stroke="#262626" stroke-width="0.55" stroke-linejoin="round">2000</text>
<text x="234.3" y="1961.3" font-size="31.5" text-anchor="middle" font-weight="bold" font-style="normal" fill="#262626"  stroke="#262626" stroke-width="0.55" stroke-linejoin="round">2001</text>
<text x="334.9" y="1961.3" font-size="31.5" text-anchor="middle" font-weight="bold" font-style="normal" fill="#262626"  stroke="#262626" stroke-width="0.55" stroke-linejoin="round">2002</text>
<text x="435.6" y="1961.3" font-size="31.5" text-anchor="middle" font-weight="bold" font-style="normal" fill="#262626"  stroke="#262626" stroke-width="0.55" stroke-linejoin="round">2003</text>
<text x="536.2" y="1961.3" font-size="31.5" text-anchor="middle" font-weight="bold" font-style="normal" fill="#262626"  stroke="#262626" stroke-width="0.55" stroke-linejoin="round">2004</text>
<text x="636.8" y="1961.3" font-size="31.5" text-anchor="middle" font-weight="bold" font-style="normal" fill="#262626"  stroke="#262626" stroke-width="0.55" stroke-linejoin="round">2005</text>
<text x="737.5" y="1961.3" font-size="31.5" text-anchor="middle" font-weight="bold" font-style="normal" fill="#262626"  stroke="#262626" stroke-width="0.55" stroke-linejoin="round">2006</text>
<text x="838.2" y="1961.3" font-size="31.5" text-anchor="middle" font-weight="bold" font-style="normal" fill="#262626"  stroke="#262626" stroke-width="0.55" stroke-linejoin="round">2007</text>
<text x="938.8" y="1961.3" font-size="31.5" text-anchor="middle" font-weight="bold" font-style="normal" fill="#262626"  stroke="#262626" stroke-width="0.55" stroke-linejoin="round">2008</text>
<text x="408.2" y="2012.2" font-size="41.0" text-anchor="start" font-weight="bold" font-style="normal" fill="#000" textLength="283.0" lengthAdjust="spacingAndGlyphs"  stroke="#000" stroke-width="0.55" stroke-linejoin="round">Time [years]</text>
<line x1="1058.8" y1="1544.4" x2="1129.5" y2="1544.4" stroke="#00ff00" stroke-width="4.70" />
<line x1="1058.8" y1="1579.7" x2="1129.5" y2="1579.7" stroke="#6f6f20" stroke-width="3.30" />
<line x1="1058.8" y1="1615.0" x2="1129.5" y2="1615.0" stroke="#a820b0" stroke-width="3.20" />
<line x1="1058.8" y1="1650.7" x2="1129.5" y2="1650.7" stroke="#12a9ad" stroke-width="3.40" />
<line x1="1058.8" y1="1686.0" x2="1129.5" y2="1686.0" stroke="#ffc300" stroke-width="3.30" />
<line x1="1058.8" y1="1720.6" x2="1129.5" y2="1720.6" stroke="#000" stroke-width="1.30" />
<text x="1136.5" y="1553.5" font-size="27.5" text-anchor="start" font-weight="bold" font-style="italic" fill="#000" textLength="61.0" lengthAdjust="spacingAndGlyphs"  stroke="#000" stroke-width="0.55" stroke-linejoin="round">SMS</text>
<text x="1137.4" y="1588.8" font-size="27.5" text-anchor="start" font-weight="bold" font-style="normal" fill="#000" textLength="277.0" lengthAdjust="spacingAndGlyphs"  stroke="#000" stroke-width="0.55" stroke-linejoin="round">Photosynthetic Prod.</text>
<text x="1137.4" y="1624.2" font-size="27.5" text-anchor="start" font-weight="bold" font-style="normal" fill="#000" textLength="253.0" lengthAdjust="spacingAndGlyphs"  stroke="#000" stroke-width="0.55" stroke-linejoin="round">Ox. Decomposition</text>
<text x="1137.4" y="1660.0" font-size="27.5" text-anchor="start" font-weight="bold" font-style="normal" fill="#000" textLength="125.0" lengthAdjust="spacingAndGlyphs"  stroke="#000" stroke-width="0.55" stroke-linejoin="round">Excretion</text>
<text x="1137.4" y="1695.4" font-size="27.5" text-anchor="start" font-weight="bold" font-style="normal" fill="#000" textLength="153.5" lengthAdjust="spacingAndGlyphs"  stroke="#000" stroke-width="0.55" stroke-linejoin="round">Nitrification</text>
<text x="1137.4" y="1730.6" font-size="27.5" text-anchor="start" font-weight="bold" font-style="normal" fill="#000" textLength="70.5" lengthAdjust="spacingAndGlyphs"  stroke="#000" stroke-width="0.55" stroke-linejoin="round">data1</text>
<text transform="translate(66.8,1727) rotate(-90)" font-size="35.5" font-weight="bold" text-anchor="middle" fill="#262626" stroke="#262626" stroke-width="0.55" textLength="150" lengthAdjust="spacing">[ <tspan font-family="&quot;Liberation Serif&quot;, serif" font-style="italic" font-weight="normal" stroke-width="0.45">μ</tspan>M s<tspan dy="-16" font-size="27">-1</tspan><tspan dy="16"> ]</tspan></text>
<text x="0.5" y="1483.9" font-size="30.0" text-anchor="start" font-weight="bold" font-style="normal" fill="#000"  stroke="#000" stroke-width="0.55" stroke-linejoin="round">D</text>
</svg>
</body></html>
